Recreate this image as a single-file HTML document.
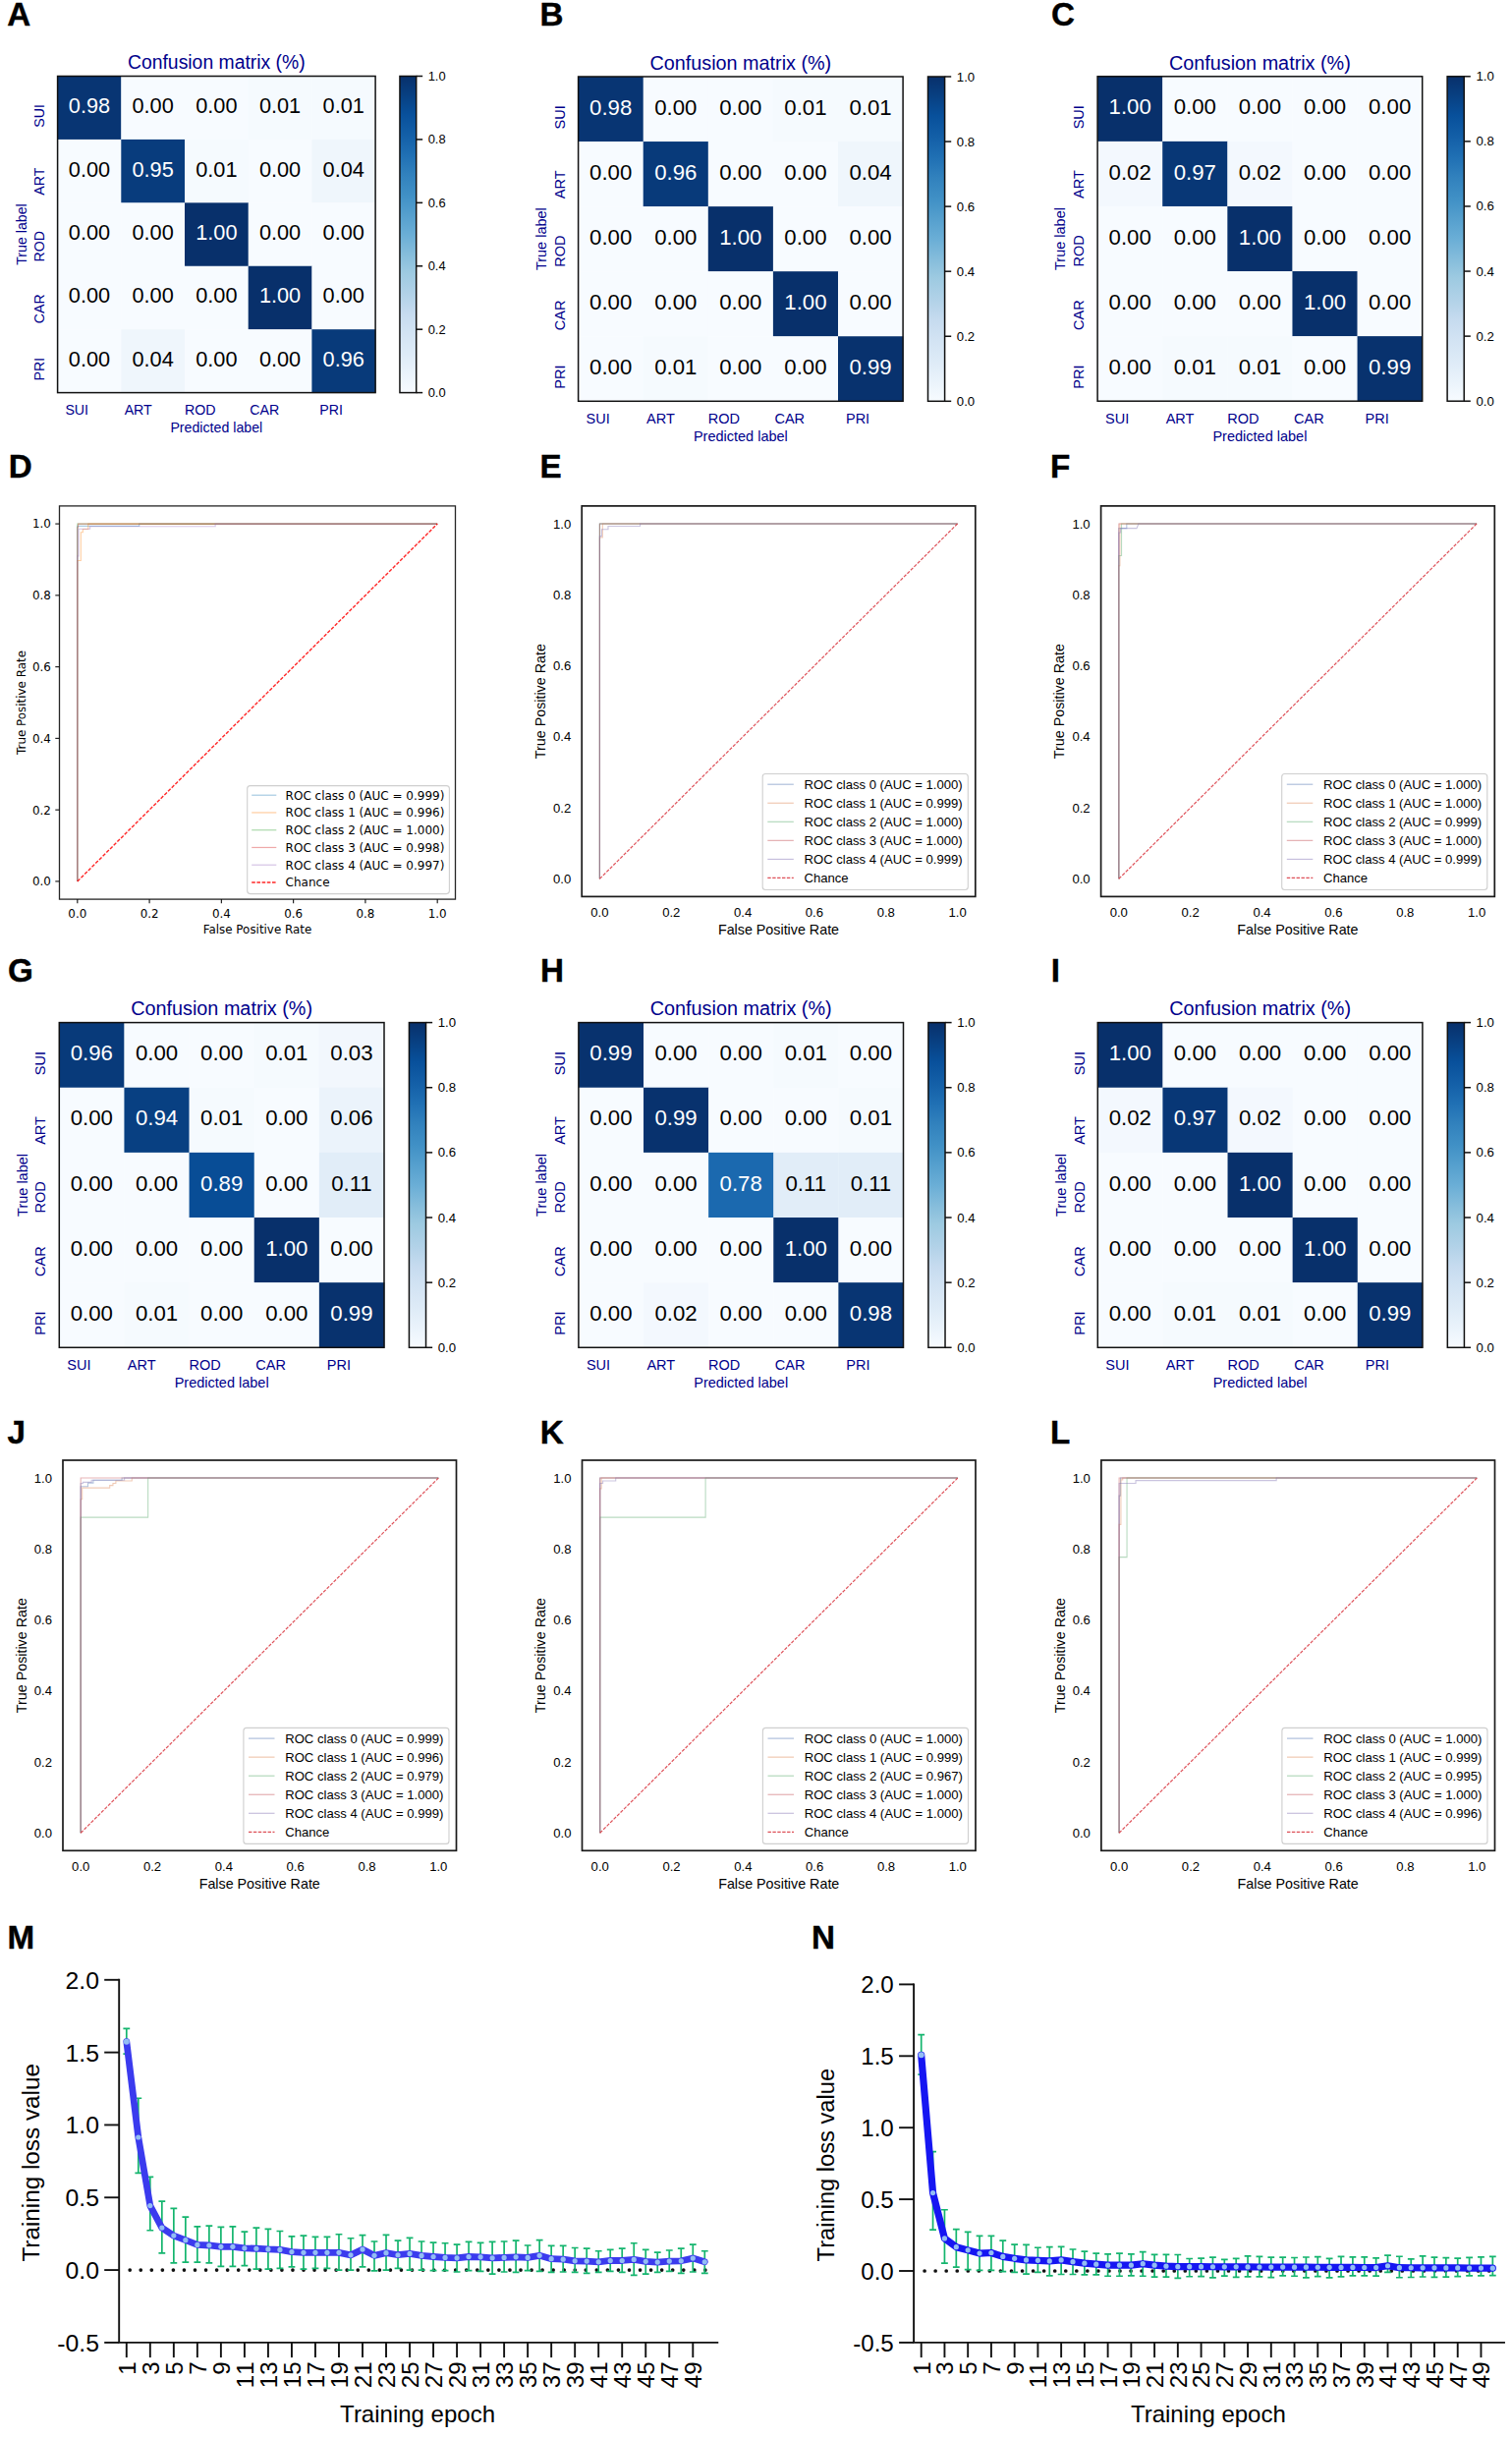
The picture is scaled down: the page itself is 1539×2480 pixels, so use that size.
<!DOCTYPE html>
<html lang="en"><head><meta charset="utf-8"><title>Figure</title>
<style>html,body{margin:0;padding:0;background:#fff}svg{display:block}</style></head>
<body>
<svg width="1539" height="2480" viewBox="0 0 1539 2480" font-family="'Liberation Sans', Arial, sans-serif">
<rect width="1539" height="2480" fill="#fff"/>
<rect x="58.6" y="77.5" width="65" height="64.72" fill="#083573"/>
<rect x="123.3" y="77.5" width="65" height="64.72" fill="#f7fbff"/>
<rect x="188" y="77.5" width="65" height="64.72" fill="#f7fbff"/>
<rect x="252.7" y="77.5" width="65" height="64.72" fill="#f5fafe"/>
<rect x="317.4" y="77.5" width="65" height="64.72" fill="#f5fafe"/>
<rect x="58.6" y="141.92" width="65" height="64.72" fill="#f7fbff"/>
<rect x="123.3" y="141.92" width="65" height="64.72" fill="#083c7d"/>
<rect x="188" y="141.92" width="65" height="64.72" fill="#f5fafe"/>
<rect x="252.7" y="141.92" width="65" height="64.72" fill="#f7fbff"/>
<rect x="317.4" y="141.92" width="65" height="64.72" fill="#eff6fc"/>
<rect x="58.6" y="206.34" width="65" height="64.72" fill="#f7fbff"/>
<rect x="123.3" y="206.34" width="65" height="64.72" fill="#f7fbff"/>
<rect x="188" y="206.34" width="65" height="64.72" fill="#08306b"/>
<rect x="252.7" y="206.34" width="65" height="64.72" fill="#f7fbff"/>
<rect x="317.4" y="206.34" width="65" height="64.72" fill="#f7fbff"/>
<rect x="58.6" y="270.76" width="65" height="64.72" fill="#f7fbff"/>
<rect x="123.3" y="270.76" width="65" height="64.72" fill="#f7fbff"/>
<rect x="188" y="270.76" width="65" height="64.72" fill="#f7fbff"/>
<rect x="252.7" y="270.76" width="65" height="64.72" fill="#08306b"/>
<rect x="317.4" y="270.76" width="65" height="64.72" fill="#f7fbff"/>
<rect x="58.6" y="335.18" width="65" height="64.72" fill="#f7fbff"/>
<rect x="123.3" y="335.18" width="65" height="64.72" fill="#eff6fc"/>
<rect x="188" y="335.18" width="65" height="64.72" fill="#f7fbff"/>
<rect x="252.7" y="335.18" width="65" height="64.72" fill="#f7fbff"/>
<rect x="317.4" y="335.18" width="65" height="64.72" fill="#083a7a"/>
<rect x="58.6" y="77.5" width="323.5" height="322.1" fill="none" stroke="#111" stroke-width="1.5"/>
<text x="90.95" y="115.19" font-size="21.73" text-anchor="middle" fill="#fff">0.98</text>
<text x="155.65" y="115.19" font-size="21.73" text-anchor="middle">0.00</text>
<text x="220.35" y="115.19" font-size="21.73" text-anchor="middle">0.00</text>
<text x="285.05" y="115.19" font-size="21.73" text-anchor="middle">0.01</text>
<text x="349.75" y="115.19" font-size="21.73" text-anchor="middle">0.01</text>
<text x="90.95" y="179.61" font-size="21.73" text-anchor="middle">0.00</text>
<text x="155.65" y="179.61" font-size="21.73" text-anchor="middle" fill="#fff">0.95</text>
<text x="220.35" y="179.61" font-size="21.73" text-anchor="middle">0.01</text>
<text x="285.05" y="179.61" font-size="21.73" text-anchor="middle">0.00</text>
<text x="349.75" y="179.61" font-size="21.73" text-anchor="middle">0.04</text>
<text x="90.95" y="244.03" font-size="21.73" text-anchor="middle">0.00</text>
<text x="155.65" y="244.03" font-size="21.73" text-anchor="middle">0.00</text>
<text x="220.35" y="244.03" font-size="21.73" text-anchor="middle" fill="#fff">1.00</text>
<text x="285.05" y="244.03" font-size="21.73" text-anchor="middle">0.00</text>
<text x="349.75" y="244.03" font-size="21.73" text-anchor="middle">0.00</text>
<text x="90.95" y="308.45" font-size="21.73" text-anchor="middle">0.00</text>
<text x="155.65" y="308.45" font-size="21.73" text-anchor="middle">0.00</text>
<text x="220.35" y="308.45" font-size="21.73" text-anchor="middle">0.00</text>
<text x="285.05" y="308.45" font-size="21.73" text-anchor="middle" fill="#fff">1.00</text>
<text x="349.75" y="308.45" font-size="21.73" text-anchor="middle">0.00</text>
<text x="90.95" y="372.87" font-size="21.73" text-anchor="middle">0.00</text>
<text x="155.65" y="372.87" font-size="21.73" text-anchor="middle">0.04</text>
<text x="220.35" y="372.87" font-size="21.73" text-anchor="middle">0.00</text>
<text x="285.05" y="372.87" font-size="21.73" text-anchor="middle">0.00</text>
<text x="349.75" y="372.87" font-size="21.73" text-anchor="middle" fill="#fff">0.96</text>
<text x="220.35" y="70.35" font-size="19.38" text-anchor="middle" fill="#00008b">Confusion matrix (%)</text>
<text x="90.07" y="421.53" font-size="14.19" text-anchor="end" fill="#00008b">SUI</text>
<text x="154.77" y="421.53" font-size="14.19" text-anchor="end" fill="#00008b">ART</text>
<text x="219.47" y="421.53" font-size="14.19" text-anchor="end" fill="#00008b">ROD</text>
<text x="284.17" y="421.53" font-size="14.19" text-anchor="end" fill="#00008b">CAR</text>
<text x="348.87" y="421.53" font-size="14.19" text-anchor="end" fill="#00008b">PRI</text>
<text x="220.35" y="439.73" font-size="14.19" text-anchor="middle" fill="#00008b">Predicted label</text>
<text transform="translate(45.09 106.09) rotate(-90)" font-size="14.19" text-anchor="end" fill="#00008b">SUI</text>
<text transform="translate(45.09 170.51) rotate(-90)" font-size="14.19" text-anchor="end" fill="#00008b">ART</text>
<text transform="translate(45.09 234.93) rotate(-90)" font-size="14.19" text-anchor="end" fill="#00008b">ROD</text>
<text transform="translate(45.09 299.35) rotate(-90)" font-size="14.19" text-anchor="end" fill="#00008b">CAR</text>
<text transform="translate(45.09 363.77) rotate(-90)" font-size="14.19" text-anchor="end" fill="#00008b">PRI</text>
<text transform="translate(26.69 238.55) rotate(-90)" font-size="14.19" text-anchor="middle" fill="#00008b">True label</text>
<defs><linearGradient id="g0" x1="0" y1="0" x2="0" y2="1"><stop offset="0" stop-color="#08306b"/><stop offset="0.06" stop-color="#084082"/><stop offset="0.12" stop-color="#08509b"/><stop offset="0.19" stop-color="#1460a8"/><stop offset="0.25" stop-color="#2070b4"/><stop offset="0.31" stop-color="#3181bd"/><stop offset="0.38" stop-color="#4191c6"/><stop offset="0.44" stop-color="#56a0ce"/><stop offset="0.5" stop-color="#6aaed6"/><stop offset="0.56" stop-color="#84bcdb"/><stop offset="0.62" stop-color="#9dcae1"/><stop offset="0.69" stop-color="#b2d2e8"/><stop offset="0.75" stop-color="#c6dbef"/><stop offset="0.81" stop-color="#d2e3f3"/><stop offset="0.88" stop-color="#deebf7"/><stop offset="0.94" stop-color="#eaf3fb"/><stop offset="1" stop-color="#f7fbff"/></linearGradient></defs>
<rect x="406.96" y="77.5" width="16.74" height="322.1" fill="url(#g0)" stroke="#111" stroke-width="1.5"/>
<line x1="423.7" y1="77.5" x2="430.16" y2="77.5" stroke="#111" stroke-width="1.5"/>
<text x="435.64" y="81.9" font-size="12.92">1.0</text>
<line x1="423.7" y1="141.92" x2="430.16" y2="141.92" stroke="#111" stroke-width="1.5"/>
<text x="435.64" y="146.32" font-size="12.92">0.8</text>
<line x1="423.7" y1="206.34" x2="430.16" y2="206.34" stroke="#111" stroke-width="1.5"/>
<text x="435.64" y="210.74" font-size="12.92">0.6</text>
<line x1="423.7" y1="270.76" x2="430.16" y2="270.76" stroke="#111" stroke-width="1.5"/>
<text x="435.64" y="275.16" font-size="12.92">0.4</text>
<line x1="423.7" y1="335.18" x2="430.16" y2="335.18" stroke="#111" stroke-width="1.5"/>
<text x="435.64" y="339.58" font-size="12.92">0.2</text>
<line x1="423.7" y1="399.6" x2="430.16" y2="399.6" stroke="#111" stroke-width="1.5"/>
<text x="435.64" y="404" font-size="12.92">0.0</text>
<rect x="588.6" y="78" width="66.4" height="66.36" fill="#083573"/>
<rect x="654.7" y="78" width="66.4" height="66.36" fill="#f7fbff"/>
<rect x="720.8" y="78" width="66.4" height="66.36" fill="#f7fbff"/>
<rect x="786.9" y="78" width="66.4" height="66.36" fill="#f5fafe"/>
<rect x="853" y="78" width="66.4" height="66.36" fill="#f5fafe"/>
<rect x="588.6" y="144.06" width="66.4" height="66.36" fill="#f7fbff"/>
<rect x="654.7" y="144.06" width="66.4" height="66.36" fill="#083a7a"/>
<rect x="720.8" y="144.06" width="66.4" height="66.36" fill="#f7fbff"/>
<rect x="786.9" y="144.06" width="66.4" height="66.36" fill="#f7fbff"/>
<rect x="853" y="144.06" width="66.4" height="66.36" fill="#eff6fc"/>
<rect x="588.6" y="210.12" width="66.4" height="66.36" fill="#f7fbff"/>
<rect x="654.7" y="210.12" width="66.4" height="66.36" fill="#f7fbff"/>
<rect x="720.8" y="210.12" width="66.4" height="66.36" fill="#08306b"/>
<rect x="786.9" y="210.12" width="66.4" height="66.36" fill="#f7fbff"/>
<rect x="853" y="210.12" width="66.4" height="66.36" fill="#f7fbff"/>
<rect x="588.6" y="276.18" width="66.4" height="66.36" fill="#f7fbff"/>
<rect x="654.7" y="276.18" width="66.4" height="66.36" fill="#f7fbff"/>
<rect x="720.8" y="276.18" width="66.4" height="66.36" fill="#f7fbff"/>
<rect x="786.9" y="276.18" width="66.4" height="66.36" fill="#08306b"/>
<rect x="853" y="276.18" width="66.4" height="66.36" fill="#f7fbff"/>
<rect x="588.6" y="342.24" width="66.4" height="66.36" fill="#f7fbff"/>
<rect x="654.7" y="342.24" width="66.4" height="66.36" fill="#f5fafe"/>
<rect x="720.8" y="342.24" width="66.4" height="66.36" fill="#f7fbff"/>
<rect x="786.9" y="342.24" width="66.4" height="66.36" fill="#f7fbff"/>
<rect x="853" y="342.24" width="66.4" height="66.36" fill="#08326e"/>
<rect x="588.6" y="78" width="330.5" height="330.3" fill="none" stroke="#111" stroke-width="1.5"/>
<text x="621.65" y="116.63" font-size="22.2" text-anchor="middle" fill="#fff">0.98</text>
<text x="687.75" y="116.63" font-size="22.2" text-anchor="middle">0.00</text>
<text x="753.85" y="116.63" font-size="22.2" text-anchor="middle">0.00</text>
<text x="819.95" y="116.63" font-size="22.2" text-anchor="middle">0.01</text>
<text x="886.05" y="116.63" font-size="22.2" text-anchor="middle">0.01</text>
<text x="621.65" y="182.69" font-size="22.2" text-anchor="middle">0.00</text>
<text x="687.75" y="182.69" font-size="22.2" text-anchor="middle" fill="#fff">0.96</text>
<text x="753.85" y="182.69" font-size="22.2" text-anchor="middle">0.00</text>
<text x="819.95" y="182.69" font-size="22.2" text-anchor="middle">0.00</text>
<text x="886.05" y="182.69" font-size="22.2" text-anchor="middle">0.04</text>
<text x="621.65" y="248.75" font-size="22.2" text-anchor="middle">0.00</text>
<text x="687.75" y="248.75" font-size="22.2" text-anchor="middle">0.00</text>
<text x="753.85" y="248.75" font-size="22.2" text-anchor="middle" fill="#fff">1.00</text>
<text x="819.95" y="248.75" font-size="22.2" text-anchor="middle">0.00</text>
<text x="886.05" y="248.75" font-size="22.2" text-anchor="middle">0.00</text>
<text x="621.65" y="314.81" font-size="22.2" text-anchor="middle">0.00</text>
<text x="687.75" y="314.81" font-size="22.2" text-anchor="middle">0.00</text>
<text x="753.85" y="314.81" font-size="22.2" text-anchor="middle">0.00</text>
<text x="819.95" y="314.81" font-size="22.2" text-anchor="middle" fill="#fff">1.00</text>
<text x="886.05" y="314.81" font-size="22.2" text-anchor="middle">0.00</text>
<text x="621.65" y="380.87" font-size="22.2" text-anchor="middle">0.00</text>
<text x="687.75" y="380.87" font-size="22.2" text-anchor="middle">0.01</text>
<text x="753.85" y="380.87" font-size="22.2" text-anchor="middle">0.00</text>
<text x="819.95" y="380.87" font-size="22.2" text-anchor="middle">0.00</text>
<text x="886.05" y="380.87" font-size="22.2" text-anchor="middle" fill="#fff">0.99</text>
<text x="753.85" y="70.7" font-size="19.8" text-anchor="middle" fill="#00008b">Confusion matrix (%)</text>
<text x="620.75" y="430.7" font-size="14.5" text-anchor="end" fill="#00008b">SUI</text>
<text x="686.85" y="430.7" font-size="14.5" text-anchor="end" fill="#00008b">ART</text>
<text x="752.95" y="430.7" font-size="14.5" text-anchor="end" fill="#00008b">ROD</text>
<text x="819.05" y="430.7" font-size="14.5" text-anchor="end" fill="#00008b">CAR</text>
<text x="885.15" y="430.7" font-size="14.5" text-anchor="end" fill="#00008b">PRI</text>
<text x="753.85" y="449.3" font-size="14.5" text-anchor="middle" fill="#00008b">Predicted label</text>
<text transform="translate(574.8 107.33) rotate(-90)" font-size="14.5" text-anchor="end" fill="#00008b">SUI</text>
<text transform="translate(574.8 173.39) rotate(-90)" font-size="14.5" text-anchor="end" fill="#00008b">ART</text>
<text transform="translate(574.8 239.45) rotate(-90)" font-size="14.5" text-anchor="end" fill="#00008b">ROD</text>
<text transform="translate(574.8 305.51) rotate(-90)" font-size="14.5" text-anchor="end" fill="#00008b">CAR</text>
<text transform="translate(574.8 371.57) rotate(-90)" font-size="14.5" text-anchor="end" fill="#00008b">PRI</text>
<text transform="translate(556 243.15) rotate(-90)" font-size="14.5" text-anchor="middle" fill="#00008b">True label</text>
<defs><linearGradient id="g78" x1="0" y1="0" x2="0" y2="1"><stop offset="0" stop-color="#08306b"/><stop offset="0.06" stop-color="#084082"/><stop offset="0.12" stop-color="#08509b"/><stop offset="0.19" stop-color="#1460a8"/><stop offset="0.25" stop-color="#2070b4"/><stop offset="0.31" stop-color="#3181bd"/><stop offset="0.38" stop-color="#4191c6"/><stop offset="0.44" stop-color="#56a0ce"/><stop offset="0.5" stop-color="#6aaed6"/><stop offset="0.56" stop-color="#84bcdb"/><stop offset="0.62" stop-color="#9dcae1"/><stop offset="0.69" stop-color="#b2d2e8"/><stop offset="0.75" stop-color="#c6dbef"/><stop offset="0.81" stop-color="#d2e3f3"/><stop offset="0.88" stop-color="#deebf7"/><stop offset="0.94" stop-color="#eaf3fb"/><stop offset="1" stop-color="#f7fbff"/></linearGradient></defs>
<rect x="944.5" y="78" width="17.1" height="330.3" fill="url(#g78)" stroke="#111" stroke-width="1.5"/>
<line x1="961.6" y1="78" x2="968.2" y2="78" stroke="#111" stroke-width="1.5"/>
<text x="973.8" y="82.5" font-size="13.2">1.0</text>
<line x1="961.6" y1="144.06" x2="968.2" y2="144.06" stroke="#111" stroke-width="1.5"/>
<text x="973.8" y="148.56" font-size="13.2">0.8</text>
<line x1="961.6" y1="210.12" x2="968.2" y2="210.12" stroke="#111" stroke-width="1.5"/>
<text x="973.8" y="214.62" font-size="13.2">0.6</text>
<line x1="961.6" y1="276.18" x2="968.2" y2="276.18" stroke="#111" stroke-width="1.5"/>
<text x="973.8" y="280.68" font-size="13.2">0.4</text>
<line x1="961.6" y1="342.24" x2="968.2" y2="342.24" stroke="#111" stroke-width="1.5"/>
<text x="973.8" y="346.74" font-size="13.2">0.2</text>
<line x1="961.6" y1="408.3" x2="968.2" y2="408.3" stroke="#111" stroke-width="1.5"/>
<text x="973.8" y="412.8" font-size="13.2">0.0</text>
<rect x="1117.1" y="77.8" width="66.42" height="66.38" fill="#08306b"/>
<rect x="1183.22" y="77.8" width="66.42" height="66.38" fill="#f7fbff"/>
<rect x="1249.34" y="77.8" width="66.42" height="66.38" fill="#f7fbff"/>
<rect x="1315.46" y="77.8" width="66.42" height="66.38" fill="#f7fbff"/>
<rect x="1381.58" y="77.8" width="66.42" height="66.38" fill="#f7fbff"/>
<rect x="1117.1" y="143.88" width="66.42" height="66.38" fill="#f3f8fe"/>
<rect x="1183.22" y="143.88" width="66.42" height="66.38" fill="#083776"/>
<rect x="1249.34" y="143.88" width="66.42" height="66.38" fill="#f3f8fe"/>
<rect x="1315.46" y="143.88" width="66.42" height="66.38" fill="#f7fbff"/>
<rect x="1381.58" y="143.88" width="66.42" height="66.38" fill="#f7fbff"/>
<rect x="1117.1" y="209.96" width="66.42" height="66.38" fill="#f7fbff"/>
<rect x="1183.22" y="209.96" width="66.42" height="66.38" fill="#f7fbff"/>
<rect x="1249.34" y="209.96" width="66.42" height="66.38" fill="#08306b"/>
<rect x="1315.46" y="209.96" width="66.42" height="66.38" fill="#f7fbff"/>
<rect x="1381.58" y="209.96" width="66.42" height="66.38" fill="#f7fbff"/>
<rect x="1117.1" y="276.04" width="66.42" height="66.38" fill="#f7fbff"/>
<rect x="1183.22" y="276.04" width="66.42" height="66.38" fill="#f7fbff"/>
<rect x="1249.34" y="276.04" width="66.42" height="66.38" fill="#f7fbff"/>
<rect x="1315.46" y="276.04" width="66.42" height="66.38" fill="#08306b"/>
<rect x="1381.58" y="276.04" width="66.42" height="66.38" fill="#f7fbff"/>
<rect x="1117.1" y="342.12" width="66.42" height="66.38" fill="#f7fbff"/>
<rect x="1183.22" y="342.12" width="66.42" height="66.38" fill="#f5fafe"/>
<rect x="1249.34" y="342.12" width="66.42" height="66.38" fill="#f5fafe"/>
<rect x="1315.46" y="342.12" width="66.42" height="66.38" fill="#f7fbff"/>
<rect x="1381.58" y="342.12" width="66.42" height="66.38" fill="#08326e"/>
<rect x="1117.1" y="77.8" width="330.6" height="330.4" fill="none" stroke="#111" stroke-width="1.5"/>
<text x="1150.16" y="116.44" font-size="22.21" text-anchor="middle" fill="#fff">1.00</text>
<text x="1216.28" y="116.44" font-size="22.21" text-anchor="middle">0.00</text>
<text x="1282.4" y="116.44" font-size="22.21" text-anchor="middle">0.00</text>
<text x="1348.52" y="116.44" font-size="22.21" text-anchor="middle">0.00</text>
<text x="1414.64" y="116.44" font-size="22.21" text-anchor="middle">0.00</text>
<text x="1150.16" y="182.52" font-size="22.21" text-anchor="middle">0.02</text>
<text x="1216.28" y="182.52" font-size="22.21" text-anchor="middle" fill="#fff">0.97</text>
<text x="1282.4" y="182.52" font-size="22.21" text-anchor="middle">0.02</text>
<text x="1348.52" y="182.52" font-size="22.21" text-anchor="middle">0.00</text>
<text x="1414.64" y="182.52" font-size="22.21" text-anchor="middle">0.00</text>
<text x="1150.16" y="248.6" font-size="22.21" text-anchor="middle">0.00</text>
<text x="1216.28" y="248.6" font-size="22.21" text-anchor="middle">0.00</text>
<text x="1282.4" y="248.6" font-size="22.21" text-anchor="middle" fill="#fff">1.00</text>
<text x="1348.52" y="248.6" font-size="22.21" text-anchor="middle">0.00</text>
<text x="1414.64" y="248.6" font-size="22.21" text-anchor="middle">0.00</text>
<text x="1150.16" y="314.68" font-size="22.21" text-anchor="middle">0.00</text>
<text x="1216.28" y="314.68" font-size="22.21" text-anchor="middle">0.00</text>
<text x="1282.4" y="314.68" font-size="22.21" text-anchor="middle">0.00</text>
<text x="1348.52" y="314.68" font-size="22.21" text-anchor="middle" fill="#fff">1.00</text>
<text x="1414.64" y="314.68" font-size="22.21" text-anchor="middle">0.00</text>
<text x="1150.16" y="380.76" font-size="22.21" text-anchor="middle">0.00</text>
<text x="1216.28" y="380.76" font-size="22.21" text-anchor="middle">0.01</text>
<text x="1282.4" y="380.76" font-size="22.21" text-anchor="middle">0.01</text>
<text x="1348.52" y="380.76" font-size="22.21" text-anchor="middle">0.00</text>
<text x="1414.64" y="380.76" font-size="22.21" text-anchor="middle" fill="#fff">0.99</text>
<text x="1282.4" y="70.5" font-size="19.81" text-anchor="middle" fill="#00008b">Confusion matrix (%)</text>
<text x="1149.26" y="430.61" font-size="14.5" text-anchor="end" fill="#00008b">SUI</text>
<text x="1215.38" y="430.61" font-size="14.5" text-anchor="end" fill="#00008b">ART</text>
<text x="1281.5" y="430.61" font-size="14.5" text-anchor="end" fill="#00008b">ROD</text>
<text x="1347.62" y="430.61" font-size="14.5" text-anchor="end" fill="#00008b">CAR</text>
<text x="1413.74" y="430.61" font-size="14.5" text-anchor="end" fill="#00008b">PRI</text>
<text x="1282.4" y="449.21" font-size="14.5" text-anchor="middle" fill="#00008b">Predicted label</text>
<text transform="translate(1103.3 107.14) rotate(-90)" font-size="14.5" text-anchor="end" fill="#00008b">SUI</text>
<text transform="translate(1103.3 173.22) rotate(-90)" font-size="14.5" text-anchor="end" fill="#00008b">ART</text>
<text transform="translate(1103.3 239.3) rotate(-90)" font-size="14.5" text-anchor="end" fill="#00008b">ROD</text>
<text transform="translate(1103.3 305.38) rotate(-90)" font-size="14.5" text-anchor="end" fill="#00008b">CAR</text>
<text transform="translate(1103.3 371.46) rotate(-90)" font-size="14.5" text-anchor="end" fill="#00008b">PRI</text>
<text transform="translate(1084.49 243) rotate(-90)" font-size="14.5" text-anchor="middle" fill="#00008b">True label</text>
<defs><linearGradient id="g156" x1="0" y1="0" x2="0" y2="1"><stop offset="0" stop-color="#08306b"/><stop offset="0.06" stop-color="#084082"/><stop offset="0.12" stop-color="#08509b"/><stop offset="0.19" stop-color="#1460a8"/><stop offset="0.25" stop-color="#2070b4"/><stop offset="0.31" stop-color="#3181bd"/><stop offset="0.38" stop-color="#4191c6"/><stop offset="0.44" stop-color="#56a0ce"/><stop offset="0.5" stop-color="#6aaed6"/><stop offset="0.56" stop-color="#84bcdb"/><stop offset="0.62" stop-color="#9dcae1"/><stop offset="0.69" stop-color="#b2d2e8"/><stop offset="0.75" stop-color="#c6dbef"/><stop offset="0.81" stop-color="#d2e3f3"/><stop offset="0.88" stop-color="#deebf7"/><stop offset="0.94" stop-color="#eaf3fb"/><stop offset="1" stop-color="#f7fbff"/></linearGradient></defs>
<rect x="1473.11" y="77.8" width="17.11" height="330.4" fill="url(#g156)" stroke="#111" stroke-width="1.5"/>
<line x1="1490.21" y1="77.8" x2="1496.81" y2="77.8" stroke="#111" stroke-width="1.5"/>
<text x="1502.42" y="82.3" font-size="13.2">1.0</text>
<line x1="1490.21" y1="143.88" x2="1496.81" y2="143.88" stroke="#111" stroke-width="1.5"/>
<text x="1502.42" y="148.38" font-size="13.2">0.8</text>
<line x1="1490.21" y1="209.96" x2="1496.81" y2="209.96" stroke="#111" stroke-width="1.5"/>
<text x="1502.42" y="214.46" font-size="13.2">0.6</text>
<line x1="1490.21" y1="276.04" x2="1496.81" y2="276.04" stroke="#111" stroke-width="1.5"/>
<text x="1502.42" y="280.54" font-size="13.2">0.4</text>
<line x1="1490.21" y1="342.12" x2="1496.81" y2="342.12" stroke="#111" stroke-width="1.5"/>
<text x="1502.42" y="346.62" font-size="13.2">0.2</text>
<line x1="1490.21" y1="408.2" x2="1496.81" y2="408.2" stroke="#111" stroke-width="1.5"/>
<text x="1502.42" y="412.7" font-size="13.2">0.0</text>
<rect x="60.3" y="1040.6" width="66.44" height="66.44" fill="#083a7a"/>
<rect x="126.44" y="1040.6" width="66.44" height="66.44" fill="#f7fbff"/>
<rect x="192.58" y="1040.6" width="66.44" height="66.44" fill="#f7fbff"/>
<rect x="258.72" y="1040.6" width="66.44" height="66.44" fill="#f5fafe"/>
<rect x="324.86" y="1040.6" width="66.44" height="66.44" fill="#f2f7fd"/>
<rect x="60.3" y="1106.74" width="66.44" height="66.44" fill="#f7fbff"/>
<rect x="126.44" y="1106.74" width="66.44" height="66.44" fill="#084082"/>
<rect x="192.58" y="1106.74" width="66.44" height="66.44" fill="#f5fafe"/>
<rect x="258.72" y="1106.74" width="66.44" height="66.44" fill="#f7fbff"/>
<rect x="324.86" y="1106.74" width="66.44" height="66.44" fill="#ebf3fb"/>
<rect x="60.3" y="1172.88" width="66.44" height="66.44" fill="#f7fbff"/>
<rect x="126.44" y="1172.88" width="66.44" height="66.44" fill="#f7fbff"/>
<rect x="192.58" y="1172.88" width="66.44" height="66.44" fill="#084d96"/>
<rect x="258.72" y="1172.88" width="66.44" height="66.44" fill="#f7fbff"/>
<rect x="324.86" y="1172.88" width="66.44" height="66.44" fill="#e1edf8"/>
<rect x="60.3" y="1239.02" width="66.44" height="66.44" fill="#f7fbff"/>
<rect x="126.44" y="1239.02" width="66.44" height="66.44" fill="#f7fbff"/>
<rect x="192.58" y="1239.02" width="66.44" height="66.44" fill="#f7fbff"/>
<rect x="258.72" y="1239.02" width="66.44" height="66.44" fill="#08306b"/>
<rect x="324.86" y="1239.02" width="66.44" height="66.44" fill="#f7fbff"/>
<rect x="60.3" y="1305.16" width="66.44" height="66.44" fill="#f7fbff"/>
<rect x="126.44" y="1305.16" width="66.44" height="66.44" fill="#f5fafe"/>
<rect x="192.58" y="1305.16" width="66.44" height="66.44" fill="#f7fbff"/>
<rect x="258.72" y="1305.16" width="66.44" height="66.44" fill="#f7fbff"/>
<rect x="324.86" y="1305.16" width="66.44" height="66.44" fill="#08326e"/>
<rect x="60.3" y="1040.6" width="330.7" height="330.7" fill="none" stroke="#111" stroke-width="1.5"/>
<text x="93.37" y="1079.27" font-size="22.21" text-anchor="middle" fill="#fff">0.96</text>
<text x="159.51" y="1079.27" font-size="22.21" text-anchor="middle">0.00</text>
<text x="225.65" y="1079.27" font-size="22.21" text-anchor="middle">0.00</text>
<text x="291.79" y="1079.27" font-size="22.21" text-anchor="middle">0.01</text>
<text x="357.93" y="1079.27" font-size="22.21" text-anchor="middle">0.03</text>
<text x="93.37" y="1145.41" font-size="22.21" text-anchor="middle">0.00</text>
<text x="159.51" y="1145.41" font-size="22.21" text-anchor="middle" fill="#fff">0.94</text>
<text x="225.65" y="1145.41" font-size="22.21" text-anchor="middle">0.01</text>
<text x="291.79" y="1145.41" font-size="22.21" text-anchor="middle">0.00</text>
<text x="357.93" y="1145.41" font-size="22.21" text-anchor="middle">0.06</text>
<text x="93.37" y="1211.55" font-size="22.21" text-anchor="middle">0.00</text>
<text x="159.51" y="1211.55" font-size="22.21" text-anchor="middle">0.00</text>
<text x="225.65" y="1211.55" font-size="22.21" text-anchor="middle" fill="#fff">0.89</text>
<text x="291.79" y="1211.55" font-size="22.21" text-anchor="middle">0.00</text>
<text x="357.93" y="1211.55" font-size="22.21" text-anchor="middle">0.11</text>
<text x="93.37" y="1277.69" font-size="22.21" text-anchor="middle">0.00</text>
<text x="159.51" y="1277.69" font-size="22.21" text-anchor="middle">0.00</text>
<text x="225.65" y="1277.69" font-size="22.21" text-anchor="middle">0.00</text>
<text x="291.79" y="1277.69" font-size="22.21" text-anchor="middle" fill="#fff">1.00</text>
<text x="357.93" y="1277.69" font-size="22.21" text-anchor="middle">0.00</text>
<text x="93.37" y="1343.83" font-size="22.21" text-anchor="middle">0.00</text>
<text x="159.51" y="1343.83" font-size="22.21" text-anchor="middle">0.01</text>
<text x="225.65" y="1343.83" font-size="22.21" text-anchor="middle">0.00</text>
<text x="291.79" y="1343.83" font-size="22.21" text-anchor="middle">0.00</text>
<text x="357.93" y="1343.83" font-size="22.21" text-anchor="middle" fill="#fff">0.99</text>
<text x="225.65" y="1033.3" font-size="19.81" text-anchor="middle" fill="#00008b">Confusion matrix (%)</text>
<text x="92.47" y="1393.71" font-size="14.51" text-anchor="end" fill="#00008b">SUI</text>
<text x="158.61" y="1393.71" font-size="14.51" text-anchor="end" fill="#00008b">ART</text>
<text x="224.75" y="1393.71" font-size="14.51" text-anchor="end" fill="#00008b">ROD</text>
<text x="290.89" y="1393.71" font-size="14.51" text-anchor="end" fill="#00008b">CAR</text>
<text x="357.03" y="1393.71" font-size="14.51" text-anchor="end" fill="#00008b">PRI</text>
<text x="225.65" y="1412.32" font-size="14.51" text-anchor="middle" fill="#00008b">Predicted label</text>
<text transform="translate(46.49 1069.97) rotate(-90)" font-size="14.51" text-anchor="end" fill="#00008b">SUI</text>
<text transform="translate(46.49 1136.11) rotate(-90)" font-size="14.51" text-anchor="end" fill="#00008b">ART</text>
<text transform="translate(46.49 1202.25) rotate(-90)" font-size="14.51" text-anchor="end" fill="#00008b">ROD</text>
<text transform="translate(46.49 1268.39) rotate(-90)" font-size="14.51" text-anchor="end" fill="#00008b">CAR</text>
<text transform="translate(46.49 1334.53) rotate(-90)" font-size="14.51" text-anchor="end" fill="#00008b">PRI</text>
<text transform="translate(27.68 1205.95) rotate(-90)" font-size="14.51" text-anchor="middle" fill="#00008b">True label</text>
<defs><linearGradient id="g234" x1="0" y1="0" x2="0" y2="1"><stop offset="0" stop-color="#08306b"/><stop offset="0.06" stop-color="#084082"/><stop offset="0.12" stop-color="#08509b"/><stop offset="0.19" stop-color="#1460a8"/><stop offset="0.25" stop-color="#2070b4"/><stop offset="0.31" stop-color="#3181bd"/><stop offset="0.38" stop-color="#4191c6"/><stop offset="0.44" stop-color="#56a0ce"/><stop offset="0.5" stop-color="#6aaed6"/><stop offset="0.56" stop-color="#84bcdb"/><stop offset="0.62" stop-color="#9dcae1"/><stop offset="0.69" stop-color="#b2d2e8"/><stop offset="0.75" stop-color="#c6dbef"/><stop offset="0.81" stop-color="#d2e3f3"/><stop offset="0.88" stop-color="#deebf7"/><stop offset="0.94" stop-color="#eaf3fb"/><stop offset="1" stop-color="#f7fbff"/></linearGradient></defs>
<rect x="416.42" y="1040.6" width="17.11" height="330.7" fill="url(#g234)" stroke="#111" stroke-width="1.5"/>
<line x1="433.53" y1="1040.6" x2="440.13" y2="1040.6" stroke="#111" stroke-width="1.5"/>
<text x="445.73" y="1045.1" font-size="13.21">1.0</text>
<line x1="433.53" y1="1106.74" x2="440.13" y2="1106.74" stroke="#111" stroke-width="1.5"/>
<text x="445.73" y="1111.24" font-size="13.21">0.8</text>
<line x1="433.53" y1="1172.88" x2="440.13" y2="1172.88" stroke="#111" stroke-width="1.5"/>
<text x="445.73" y="1177.38" font-size="13.21">0.6</text>
<line x1="433.53" y1="1239.02" x2="440.13" y2="1239.02" stroke="#111" stroke-width="1.5"/>
<text x="445.73" y="1243.52" font-size="13.21">0.4</text>
<line x1="433.53" y1="1305.16" x2="440.13" y2="1305.16" stroke="#111" stroke-width="1.5"/>
<text x="445.73" y="1309.66" font-size="13.21">0.2</text>
<line x1="433.53" y1="1371.3" x2="440.13" y2="1371.3" stroke="#111" stroke-width="1.5"/>
<text x="445.73" y="1375.8" font-size="13.21">0.0</text>
<rect x="588.9" y="1040.6" width="66.42" height="66.44" fill="#08326e"/>
<rect x="655.02" y="1040.6" width="66.42" height="66.44" fill="#f7fbff"/>
<rect x="721.14" y="1040.6" width="66.42" height="66.44" fill="#f7fbff"/>
<rect x="787.26" y="1040.6" width="66.42" height="66.44" fill="#f5fafe"/>
<rect x="853.38" y="1040.6" width="66.42" height="66.44" fill="#f7fbff"/>
<rect x="588.9" y="1106.74" width="66.42" height="66.44" fill="#f7fbff"/>
<rect x="655.02" y="1106.74" width="66.42" height="66.44" fill="#08326e"/>
<rect x="721.14" y="1106.74" width="66.42" height="66.44" fill="#f7fbff"/>
<rect x="787.26" y="1106.74" width="66.42" height="66.44" fill="#f7fbff"/>
<rect x="853.38" y="1106.74" width="66.42" height="66.44" fill="#f5fafe"/>
<rect x="588.9" y="1172.88" width="66.42" height="66.44" fill="#f7fbff"/>
<rect x="655.02" y="1172.88" width="66.42" height="66.44" fill="#f7fbff"/>
<rect x="721.14" y="1172.88" width="66.42" height="66.44" fill="#1b69af"/>
<rect x="787.26" y="1172.88" width="66.42" height="66.44" fill="#e1edf8"/>
<rect x="853.38" y="1172.88" width="66.42" height="66.44" fill="#e1edf8"/>
<rect x="588.9" y="1239.02" width="66.42" height="66.44" fill="#f7fbff"/>
<rect x="655.02" y="1239.02" width="66.42" height="66.44" fill="#f7fbff"/>
<rect x="721.14" y="1239.02" width="66.42" height="66.44" fill="#f7fbff"/>
<rect x="787.26" y="1239.02" width="66.42" height="66.44" fill="#08306b"/>
<rect x="853.38" y="1239.02" width="66.42" height="66.44" fill="#f7fbff"/>
<rect x="588.9" y="1305.16" width="66.42" height="66.44" fill="#f7fbff"/>
<rect x="655.02" y="1305.16" width="66.42" height="66.44" fill="#f3f8fe"/>
<rect x="721.14" y="1305.16" width="66.42" height="66.44" fill="#f7fbff"/>
<rect x="787.26" y="1305.16" width="66.42" height="66.44" fill="#f7fbff"/>
<rect x="853.38" y="1305.16" width="66.42" height="66.44" fill="#083573"/>
<rect x="588.9" y="1040.6" width="330.6" height="330.7" fill="none" stroke="#111" stroke-width="1.5"/>
<text x="621.96" y="1079.27" font-size="22.21" text-anchor="middle" fill="#fff">0.99</text>
<text x="688.08" y="1079.27" font-size="22.21" text-anchor="middle">0.00</text>
<text x="754.2" y="1079.27" font-size="22.21" text-anchor="middle">0.00</text>
<text x="820.32" y="1079.27" font-size="22.21" text-anchor="middle">0.01</text>
<text x="886.44" y="1079.27" font-size="22.21" text-anchor="middle">0.00</text>
<text x="621.96" y="1145.41" font-size="22.21" text-anchor="middle">0.00</text>
<text x="688.08" y="1145.41" font-size="22.21" text-anchor="middle" fill="#fff">0.99</text>
<text x="754.2" y="1145.41" font-size="22.21" text-anchor="middle">0.00</text>
<text x="820.32" y="1145.41" font-size="22.21" text-anchor="middle">0.00</text>
<text x="886.44" y="1145.41" font-size="22.21" text-anchor="middle">0.01</text>
<text x="621.96" y="1211.55" font-size="22.21" text-anchor="middle">0.00</text>
<text x="688.08" y="1211.55" font-size="22.21" text-anchor="middle">0.00</text>
<text x="754.2" y="1211.55" font-size="22.21" text-anchor="middle" fill="#fff">0.78</text>
<text x="820.32" y="1211.55" font-size="22.21" text-anchor="middle">0.11</text>
<text x="886.44" y="1211.55" font-size="22.21" text-anchor="middle">0.11</text>
<text x="621.96" y="1277.69" font-size="22.21" text-anchor="middle">0.00</text>
<text x="688.08" y="1277.69" font-size="22.21" text-anchor="middle">0.00</text>
<text x="754.2" y="1277.69" font-size="22.21" text-anchor="middle">0.00</text>
<text x="820.32" y="1277.69" font-size="22.21" text-anchor="middle" fill="#fff">1.00</text>
<text x="886.44" y="1277.69" font-size="22.21" text-anchor="middle">0.00</text>
<text x="621.96" y="1343.83" font-size="22.21" text-anchor="middle">0.00</text>
<text x="688.08" y="1343.83" font-size="22.21" text-anchor="middle">0.02</text>
<text x="754.2" y="1343.83" font-size="22.21" text-anchor="middle">0.00</text>
<text x="820.32" y="1343.83" font-size="22.21" text-anchor="middle">0.00</text>
<text x="886.44" y="1343.83" font-size="22.21" text-anchor="middle" fill="#fff">0.98</text>
<text x="754.2" y="1033.3" font-size="19.81" text-anchor="middle" fill="#00008b">Confusion matrix (%)</text>
<text x="621.06" y="1393.71" font-size="14.5" text-anchor="end" fill="#00008b">SUI</text>
<text x="687.18" y="1393.71" font-size="14.5" text-anchor="end" fill="#00008b">ART</text>
<text x="753.3" y="1393.71" font-size="14.5" text-anchor="end" fill="#00008b">ROD</text>
<text x="819.42" y="1393.71" font-size="14.5" text-anchor="end" fill="#00008b">CAR</text>
<text x="885.54" y="1393.71" font-size="14.5" text-anchor="end" fill="#00008b">PRI</text>
<text x="754.2" y="1412.31" font-size="14.5" text-anchor="middle" fill="#00008b">Predicted label</text>
<text transform="translate(575.1 1069.97) rotate(-90)" font-size="14.5" text-anchor="end" fill="#00008b">SUI</text>
<text transform="translate(575.1 1136.11) rotate(-90)" font-size="14.5" text-anchor="end" fill="#00008b">ART</text>
<text transform="translate(575.1 1202.25) rotate(-90)" font-size="14.5" text-anchor="end" fill="#00008b">ROD</text>
<text transform="translate(575.1 1268.39) rotate(-90)" font-size="14.5" text-anchor="end" fill="#00008b">CAR</text>
<text transform="translate(575.1 1334.53) rotate(-90)" font-size="14.5" text-anchor="end" fill="#00008b">PRI</text>
<text transform="translate(556.29 1205.95) rotate(-90)" font-size="14.5" text-anchor="middle" fill="#00008b">True label</text>
<defs><linearGradient id="g312" x1="0" y1="0" x2="0" y2="1"><stop offset="0" stop-color="#08306b"/><stop offset="0.06" stop-color="#084082"/><stop offset="0.12" stop-color="#08509b"/><stop offset="0.19" stop-color="#1460a8"/><stop offset="0.25" stop-color="#2070b4"/><stop offset="0.31" stop-color="#3181bd"/><stop offset="0.38" stop-color="#4191c6"/><stop offset="0.44" stop-color="#56a0ce"/><stop offset="0.5" stop-color="#6aaed6"/><stop offset="0.56" stop-color="#84bcdb"/><stop offset="0.62" stop-color="#9dcae1"/><stop offset="0.69" stop-color="#b2d2e8"/><stop offset="0.75" stop-color="#c6dbef"/><stop offset="0.81" stop-color="#d2e3f3"/><stop offset="0.88" stop-color="#deebf7"/><stop offset="0.94" stop-color="#eaf3fb"/><stop offset="1" stop-color="#f7fbff"/></linearGradient></defs>
<rect x="944.91" y="1040.6" width="17.11" height="330.7" fill="url(#g312)" stroke="#111" stroke-width="1.5"/>
<line x1="962.01" y1="1040.6" x2="968.61" y2="1040.6" stroke="#111" stroke-width="1.5"/>
<text x="974.22" y="1045.1" font-size="13.2">1.0</text>
<line x1="962.01" y1="1106.74" x2="968.61" y2="1106.74" stroke="#111" stroke-width="1.5"/>
<text x="974.22" y="1111.24" font-size="13.2">0.8</text>
<line x1="962.01" y1="1172.88" x2="968.61" y2="1172.88" stroke="#111" stroke-width="1.5"/>
<text x="974.22" y="1177.38" font-size="13.2">0.6</text>
<line x1="962.01" y1="1239.02" x2="968.61" y2="1239.02" stroke="#111" stroke-width="1.5"/>
<text x="974.22" y="1243.52" font-size="13.2">0.4</text>
<line x1="962.01" y1="1305.16" x2="968.61" y2="1305.16" stroke="#111" stroke-width="1.5"/>
<text x="974.22" y="1309.66" font-size="13.2">0.2</text>
<line x1="962.01" y1="1371.3" x2="968.61" y2="1371.3" stroke="#111" stroke-width="1.5"/>
<text x="974.22" y="1375.8" font-size="13.2">0.0</text>
<rect x="1117.3" y="1040.6" width="66.42" height="66.44" fill="#08306b"/>
<rect x="1183.42" y="1040.6" width="66.42" height="66.44" fill="#f7fbff"/>
<rect x="1249.54" y="1040.6" width="66.42" height="66.44" fill="#f7fbff"/>
<rect x="1315.66" y="1040.6" width="66.42" height="66.44" fill="#f7fbff"/>
<rect x="1381.78" y="1040.6" width="66.42" height="66.44" fill="#f7fbff"/>
<rect x="1117.3" y="1106.74" width="66.42" height="66.44" fill="#f3f8fe"/>
<rect x="1183.42" y="1106.74" width="66.42" height="66.44" fill="#083776"/>
<rect x="1249.54" y="1106.74" width="66.42" height="66.44" fill="#f3f8fe"/>
<rect x="1315.66" y="1106.74" width="66.42" height="66.44" fill="#f7fbff"/>
<rect x="1381.78" y="1106.74" width="66.42" height="66.44" fill="#f7fbff"/>
<rect x="1117.3" y="1172.88" width="66.42" height="66.44" fill="#f7fbff"/>
<rect x="1183.42" y="1172.88" width="66.42" height="66.44" fill="#f7fbff"/>
<rect x="1249.54" y="1172.88" width="66.42" height="66.44" fill="#08306b"/>
<rect x="1315.66" y="1172.88" width="66.42" height="66.44" fill="#f7fbff"/>
<rect x="1381.78" y="1172.88" width="66.42" height="66.44" fill="#f7fbff"/>
<rect x="1117.3" y="1239.02" width="66.42" height="66.44" fill="#f7fbff"/>
<rect x="1183.42" y="1239.02" width="66.42" height="66.44" fill="#f7fbff"/>
<rect x="1249.54" y="1239.02" width="66.42" height="66.44" fill="#f7fbff"/>
<rect x="1315.66" y="1239.02" width="66.42" height="66.44" fill="#08306b"/>
<rect x="1381.78" y="1239.02" width="66.42" height="66.44" fill="#f7fbff"/>
<rect x="1117.3" y="1305.16" width="66.42" height="66.44" fill="#f7fbff"/>
<rect x="1183.42" y="1305.16" width="66.42" height="66.44" fill="#f5fafe"/>
<rect x="1249.54" y="1305.16" width="66.42" height="66.44" fill="#f5fafe"/>
<rect x="1315.66" y="1305.16" width="66.42" height="66.44" fill="#f7fbff"/>
<rect x="1381.78" y="1305.16" width="66.42" height="66.44" fill="#08326e"/>
<rect x="1117.3" y="1040.6" width="330.6" height="330.7" fill="none" stroke="#111" stroke-width="1.5"/>
<text x="1150.36" y="1079.27" font-size="22.21" text-anchor="middle" fill="#fff">1.00</text>
<text x="1216.48" y="1079.27" font-size="22.21" text-anchor="middle">0.00</text>
<text x="1282.6" y="1079.27" font-size="22.21" text-anchor="middle">0.00</text>
<text x="1348.72" y="1079.27" font-size="22.21" text-anchor="middle">0.00</text>
<text x="1414.84" y="1079.27" font-size="22.21" text-anchor="middle">0.00</text>
<text x="1150.36" y="1145.41" font-size="22.21" text-anchor="middle">0.02</text>
<text x="1216.48" y="1145.41" font-size="22.21" text-anchor="middle" fill="#fff">0.97</text>
<text x="1282.6" y="1145.41" font-size="22.21" text-anchor="middle">0.02</text>
<text x="1348.72" y="1145.41" font-size="22.21" text-anchor="middle">0.00</text>
<text x="1414.84" y="1145.41" font-size="22.21" text-anchor="middle">0.00</text>
<text x="1150.36" y="1211.55" font-size="22.21" text-anchor="middle">0.00</text>
<text x="1216.48" y="1211.55" font-size="22.21" text-anchor="middle">0.00</text>
<text x="1282.6" y="1211.55" font-size="22.21" text-anchor="middle" fill="#fff">1.00</text>
<text x="1348.72" y="1211.55" font-size="22.21" text-anchor="middle">0.00</text>
<text x="1414.84" y="1211.55" font-size="22.21" text-anchor="middle">0.00</text>
<text x="1150.36" y="1277.69" font-size="22.21" text-anchor="middle">0.00</text>
<text x="1216.48" y="1277.69" font-size="22.21" text-anchor="middle">0.00</text>
<text x="1282.6" y="1277.69" font-size="22.21" text-anchor="middle">0.00</text>
<text x="1348.72" y="1277.69" font-size="22.21" text-anchor="middle" fill="#fff">1.00</text>
<text x="1414.84" y="1277.69" font-size="22.21" text-anchor="middle">0.00</text>
<text x="1150.36" y="1343.83" font-size="22.21" text-anchor="middle">0.00</text>
<text x="1216.48" y="1343.83" font-size="22.21" text-anchor="middle">0.01</text>
<text x="1282.6" y="1343.83" font-size="22.21" text-anchor="middle">0.01</text>
<text x="1348.72" y="1343.83" font-size="22.21" text-anchor="middle">0.00</text>
<text x="1414.84" y="1343.83" font-size="22.21" text-anchor="middle" fill="#fff">0.99</text>
<text x="1282.6" y="1033.3" font-size="19.81" text-anchor="middle" fill="#00008b">Confusion matrix (%)</text>
<text x="1149.46" y="1393.71" font-size="14.5" text-anchor="end" fill="#00008b">SUI</text>
<text x="1215.58" y="1393.71" font-size="14.5" text-anchor="end" fill="#00008b">ART</text>
<text x="1281.7" y="1393.71" font-size="14.5" text-anchor="end" fill="#00008b">ROD</text>
<text x="1347.82" y="1393.71" font-size="14.5" text-anchor="end" fill="#00008b">CAR</text>
<text x="1413.94" y="1393.71" font-size="14.5" text-anchor="end" fill="#00008b">PRI</text>
<text x="1282.6" y="1412.31" font-size="14.5" text-anchor="middle" fill="#00008b">Predicted label</text>
<text transform="translate(1103.5 1069.97) rotate(-90)" font-size="14.5" text-anchor="end" fill="#00008b">SUI</text>
<text transform="translate(1103.5 1136.11) rotate(-90)" font-size="14.5" text-anchor="end" fill="#00008b">ART</text>
<text transform="translate(1103.5 1202.25) rotate(-90)" font-size="14.5" text-anchor="end" fill="#00008b">ROD</text>
<text transform="translate(1103.5 1268.39) rotate(-90)" font-size="14.5" text-anchor="end" fill="#00008b">CAR</text>
<text transform="translate(1103.5 1334.53) rotate(-90)" font-size="14.5" text-anchor="end" fill="#00008b">PRI</text>
<text transform="translate(1084.69 1205.95) rotate(-90)" font-size="14.5" text-anchor="middle" fill="#00008b">True label</text>
<defs><linearGradient id="g390" x1="0" y1="0" x2="0" y2="1"><stop offset="0" stop-color="#08306b"/><stop offset="0.06" stop-color="#084082"/><stop offset="0.12" stop-color="#08509b"/><stop offset="0.19" stop-color="#1460a8"/><stop offset="0.25" stop-color="#2070b4"/><stop offset="0.31" stop-color="#3181bd"/><stop offset="0.38" stop-color="#4191c6"/><stop offset="0.44" stop-color="#56a0ce"/><stop offset="0.5" stop-color="#6aaed6"/><stop offset="0.56" stop-color="#84bcdb"/><stop offset="0.62" stop-color="#9dcae1"/><stop offset="0.69" stop-color="#b2d2e8"/><stop offset="0.75" stop-color="#c6dbef"/><stop offset="0.81" stop-color="#d2e3f3"/><stop offset="0.88" stop-color="#deebf7"/><stop offset="0.94" stop-color="#eaf3fb"/><stop offset="1" stop-color="#f7fbff"/></linearGradient></defs>
<rect x="1473.31" y="1040.6" width="17.11" height="330.7" fill="url(#g390)" stroke="#111" stroke-width="1.5"/>
<line x1="1490.41" y1="1040.6" x2="1497.01" y2="1040.6" stroke="#111" stroke-width="1.5"/>
<text x="1502.62" y="1045.1" font-size="13.2">1.0</text>
<line x1="1490.41" y1="1106.74" x2="1497.01" y2="1106.74" stroke="#111" stroke-width="1.5"/>
<text x="1502.62" y="1111.24" font-size="13.2">0.8</text>
<line x1="1490.41" y1="1172.88" x2="1497.01" y2="1172.88" stroke="#111" stroke-width="1.5"/>
<text x="1502.62" y="1177.38" font-size="13.2">0.6</text>
<line x1="1490.41" y1="1239.02" x2="1497.01" y2="1239.02" stroke="#111" stroke-width="1.5"/>
<text x="1502.62" y="1243.52" font-size="13.2">0.4</text>
<line x1="1490.41" y1="1305.16" x2="1497.01" y2="1305.16" stroke="#111" stroke-width="1.5"/>
<text x="1502.62" y="1309.66" font-size="13.2">0.2</text>
<line x1="1490.41" y1="1371.3" x2="1497.01" y2="1371.3" stroke="#111" stroke-width="1.5"/>
<text x="1502.62" y="1375.8" font-size="13.2">0.0</text>
<path d="M78.82 896.91 L78.82 535.42 L141.69 535.42 L141.69 533.09 L445.18 533.09" fill="none" stroke="#1f77b4" stroke-opacity="0.38" stroke-width="1.1"/>
<path d="M78.82 896.91 L78.82 570.56 L82.3 570.56 L82.3 541.82 L84.31 541.82 L84.31 538.55 L89.81 538.55 L89.81 533.09 L445.18 533.09" fill="none" stroke="#ff7f0e" stroke-opacity="0.38" stroke-width="1.1"/>
<path d="M78.82 896.91 L78.82 533.09 L445.18 533.09" fill="none" stroke="#2ca02c" stroke-opacity="0.38" stroke-width="1.1"/>
<path d="M78.82 896.91 L78.82 536.73 L79.55 536.73 L79.55 533.09 L445.18 533.09" fill="none" stroke="#d62728" stroke-opacity="0.38" stroke-width="1.1"/>
<path d="M78.82 896.91 L78.82 565.83 L79.92 565.83 L79.92 538.18 L91.64 538.18 L91.64 535.82 L219.14 535.82 L219.14 533.09 L445.18 533.09" fill="none" stroke="#9467bd" stroke-opacity="0.38" stroke-width="1.1"/>
<line x1="78.82" y1="896.91" x2="445.18" y2="533.09" stroke="#ff0000" stroke-opacity="0.85" stroke-width="1.4" stroke-dasharray="3.6 1.6"/>
<rect x="60.5" y="514.9" width="403" height="400.2" fill="none" stroke="#262626" stroke-width="1.3"/>
<line x1="78.82" y1="915.1" x2="78.82" y2="919.3" stroke="#111" stroke-width="1.1"/>
<line x1="56.3" y1="896.91" x2="60.5" y2="896.91" stroke="#111" stroke-width="1.1"/>
<text x="78.82" y="933.8" font-size="11.9" text-anchor="middle" font-family="'DejaVu Sans', 'Liberation Sans', sans-serif">0.0</text>
<text x="51.9" y="901.31" font-size="11.9" text-anchor="end" font-family="'DejaVu Sans', 'Liberation Sans', sans-serif">0.0</text>
<line x1="152.09" y1="915.1" x2="152.09" y2="919.3" stroke="#111" stroke-width="1.1"/>
<line x1="56.3" y1="824.15" x2="60.5" y2="824.15" stroke="#111" stroke-width="1.1"/>
<text x="152.09" y="933.8" font-size="11.9" text-anchor="middle" font-family="'DejaVu Sans', 'Liberation Sans', sans-serif">0.2</text>
<text x="51.9" y="828.55" font-size="11.9" text-anchor="end" font-family="'DejaVu Sans', 'Liberation Sans', sans-serif">0.2</text>
<line x1="225.36" y1="915.1" x2="225.36" y2="919.3" stroke="#111" stroke-width="1.1"/>
<line x1="56.3" y1="751.38" x2="60.5" y2="751.38" stroke="#111" stroke-width="1.1"/>
<text x="225.36" y="933.8" font-size="11.9" text-anchor="middle" font-family="'DejaVu Sans', 'Liberation Sans', sans-serif">0.4</text>
<text x="51.9" y="755.78" font-size="11.9" text-anchor="end" font-family="'DejaVu Sans', 'Liberation Sans', sans-serif">0.4</text>
<line x1="298.64" y1="915.1" x2="298.64" y2="919.3" stroke="#111" stroke-width="1.1"/>
<line x1="56.3" y1="678.62" x2="60.5" y2="678.62" stroke="#111" stroke-width="1.1"/>
<text x="298.64" y="933.8" font-size="11.9" text-anchor="middle" font-family="'DejaVu Sans', 'Liberation Sans', sans-serif">0.6</text>
<text x="51.9" y="683.02" font-size="11.9" text-anchor="end" font-family="'DejaVu Sans', 'Liberation Sans', sans-serif">0.6</text>
<line x1="371.91" y1="915.1" x2="371.91" y2="919.3" stroke="#111" stroke-width="1.1"/>
<line x1="56.3" y1="605.85" x2="60.5" y2="605.85" stroke="#111" stroke-width="1.1"/>
<text x="371.91" y="933.8" font-size="11.9" text-anchor="middle" font-family="'DejaVu Sans', 'Liberation Sans', sans-serif">0.8</text>
<text x="51.9" y="610.25" font-size="11.9" text-anchor="end" font-family="'DejaVu Sans', 'Liberation Sans', sans-serif">0.8</text>
<line x1="445.18" y1="915.1" x2="445.18" y2="919.3" stroke="#111" stroke-width="1.1"/>
<line x1="56.3" y1="533.09" x2="60.5" y2="533.09" stroke="#111" stroke-width="1.1"/>
<text x="445.18" y="933.8" font-size="11.9" text-anchor="middle" font-family="'DejaVu Sans', 'Liberation Sans', sans-serif">1.0</text>
<text x="51.9" y="537.49" font-size="11.9" text-anchor="end" font-family="'DejaVu Sans', 'Liberation Sans', sans-serif">1.0</text>
<text x="262" y="949.7" font-size="11.9" text-anchor="middle" font-family="'DejaVu Sans', 'Liberation Sans', sans-serif">False Positive Rate</text>
<text transform="translate(25.7 715) rotate(-90)" font-size="11.9" text-anchor="middle" font-family="'DejaVu Sans', 'Liberation Sans', sans-serif">True Positive Rate</text>
<rect x="251.7" y="799.6" width="205.7" height="110" rx="3" ry="3" fill="#fff" fill-opacity="0.8" stroke="#cfcfcf" stroke-width="1.1"/>
<line x1="256.2" y1="809.2" x2="281.3" y2="809.2" stroke="#1f77b4" stroke-opacity="0.4" stroke-width="1.2"/>
<text x="290.6" y="813.5" font-size="12" font-family="'DejaVu Sans', 'Liberation Sans', sans-serif">ROC class 0 (AUC = 0.999)</text>
<line x1="256.2" y1="826.95" x2="281.3" y2="826.95" stroke="#ff7f0e" stroke-opacity="0.4" stroke-width="1.2"/>
<text x="290.6" y="831.25" font-size="12" font-family="'DejaVu Sans', 'Liberation Sans', sans-serif">ROC class 1 (AUC = 0.996)</text>
<line x1="256.2" y1="844.7" x2="281.3" y2="844.7" stroke="#2ca02c" stroke-opacity="0.4" stroke-width="1.2"/>
<text x="290.6" y="849" font-size="12" font-family="'DejaVu Sans', 'Liberation Sans', sans-serif">ROC class 2 (AUC = 1.000)</text>
<line x1="256.2" y1="862.45" x2="281.3" y2="862.45" stroke="#d62728" stroke-opacity="0.4" stroke-width="1.2"/>
<text x="290.6" y="866.75" font-size="12" font-family="'DejaVu Sans', 'Liberation Sans', sans-serif">ROC class 3 (AUC = 0.998)</text>
<line x1="256.2" y1="880.2" x2="281.3" y2="880.2" stroke="#9467bd" stroke-opacity="0.4" stroke-width="1.2"/>
<text x="290.6" y="884.5" font-size="12" font-family="'DejaVu Sans', 'Liberation Sans', sans-serif">ROC class 4 (AUC = 0.997)</text>
<line x1="256.2" y1="897.95" x2="281.3" y2="897.95" stroke="#ff0000" stroke-opacity="0.85" stroke-width="1.4" stroke-dasharray="3.6 1.6"/>
<text x="290.6" y="902.25" font-size="12" font-family="'DejaVu Sans', 'Liberation Sans', sans-serif">Chance</text>
<path d="M610.41 894.33 L610.41 532.97 L974.59 532.97" fill="none" stroke="#4c72b0" stroke-opacity="0.42" stroke-width="1.1"/>
<path d="M610.41 894.33 L610.41 547.06 L613.32 547.06 L613.32 532.97 L974.59 532.97" fill="none" stroke="#dd8452" stroke-opacity="0.42" stroke-width="1.1"/>
<path d="M610.41 894.33 L610.41 532.97 L974.59 532.97" fill="none" stroke="#55a868" stroke-opacity="0.42" stroke-width="1.1"/>
<path d="M610.41 894.33 L610.41 532.97 L974.59 532.97" fill="none" stroke="#c44e52" stroke-opacity="0.42" stroke-width="1.1"/>
<path d="M610.41 894.33 L610.41 545.62 L612.41 545.62 L612.41 538.75 L618.97 538.75 L618.97 535.5 L651.56 535.5 L651.56 532.97 L974.59 532.97" fill="none" stroke="#8172b3" stroke-opacity="0.42" stroke-width="1.1"/>
<line x1="610.41" y1="894.33" x2="974.59" y2="532.97" stroke="#d8323c" stroke-opacity="0.85" stroke-width="1.2" stroke-dasharray="3.4 1.5"/>
<rect x="592.2" y="514.9" width="400.6" height="397.5" fill="none" stroke="#1a1a1a" stroke-width="1.7"/>
<text x="610.41" y="932.8" font-size="13.1" text-anchor="middle">0.0</text>
<text x="581.2" y="899.03" font-size="13.1" text-anchor="end">0.0</text>
<text x="683.25" y="932.8" font-size="13.1" text-anchor="middle">0.2</text>
<text x="581.2" y="826.76" font-size="13.1" text-anchor="end">0.2</text>
<text x="756.08" y="932.8" font-size="13.1" text-anchor="middle">0.4</text>
<text x="581.2" y="754.49" font-size="13.1" text-anchor="end">0.4</text>
<text x="828.92" y="932.8" font-size="13.1" text-anchor="middle">0.6</text>
<text x="581.2" y="682.21" font-size="13.1" text-anchor="end">0.6</text>
<text x="901.75" y="932.8" font-size="13.1" text-anchor="middle">0.8</text>
<text x="581.2" y="609.94" font-size="13.1" text-anchor="end">0.8</text>
<text x="974.59" y="932.8" font-size="13.1" text-anchor="middle">1.0</text>
<text x="581.2" y="537.67" font-size="13.1" text-anchor="end">1.0</text>
<text x="792.5" y="950.7" font-size="14.3" text-anchor="middle">False Positive Rate</text>
<text transform="translate(555 713.65) rotate(-90)" font-size="14.3" text-anchor="middle">True Positive Rate</text>
<rect x="776.2" y="787.5" width="209.1" height="118" rx="3" ry="3" fill="#fff" fill-opacity="0.8" stroke="#cfcfcf" stroke-width="1.1"/>
<line x1="781.3" y1="798.2" x2="807.8" y2="798.2" stroke="#4c72b0" stroke-opacity="0.45" stroke-width="1.2"/>
<text x="818.5" y="802.9" font-size="13.1">ROC class 0 (AUC = 1.000)</text>
<line x1="781.3" y1="817.25" x2="807.8" y2="817.25" stroke="#dd8452" stroke-opacity="0.45" stroke-width="1.2"/>
<text x="818.5" y="821.95" font-size="13.1">ROC class 1 (AUC = 0.999)</text>
<line x1="781.3" y1="836.3" x2="807.8" y2="836.3" stroke="#55a868" stroke-opacity="0.45" stroke-width="1.2"/>
<text x="818.5" y="841" font-size="13.1">ROC class 2 (AUC = 1.000)</text>
<line x1="781.3" y1="855.35" x2="807.8" y2="855.35" stroke="#c44e52" stroke-opacity="0.45" stroke-width="1.2"/>
<text x="818.5" y="860.05" font-size="13.1">ROC class 3 (AUC = 1.000)</text>
<line x1="781.3" y1="874.4" x2="807.8" y2="874.4" stroke="#8172b3" stroke-opacity="0.45" stroke-width="1.2"/>
<text x="818.5" y="879.1" font-size="13.1">ROC class 4 (AUC = 0.999)</text>
<line x1="781.3" y1="893.45" x2="807.8" y2="893.45" stroke="#d8323c" stroke-opacity="0.85" stroke-width="1.2" stroke-dasharray="3.4 1.5"/>
<text x="818.5" y="898.15" font-size="13.1">Chance</text>
<path d="M1138.81 894.33 L1138.81 537.67 L1146.83 537.67 L1146.83 532.97 L1503.09 532.97" fill="none" stroke="#4c72b0" stroke-opacity="0.42" stroke-width="1.1"/>
<path d="M1138.81 894.33 L1138.81 575.61 L1139.91 575.61 L1139.91 532.97 L1503.09 532.97" fill="none" stroke="#dd8452" stroke-opacity="0.42" stroke-width="1.1"/>
<path d="M1138.81 894.33 L1138.81 565.49 L1141.55 565.49 L1141.55 532.97 L1503.09 532.97" fill="none" stroke="#55a868" stroke-opacity="0.42" stroke-width="1.1"/>
<path d="M1138.81 894.33 L1138.81 532.97 L1503.09 532.97" fill="none" stroke="#c44e52" stroke-opacity="0.42" stroke-width="1.1"/>
<path d="M1138.81 894.33 L1138.81 542 L1140.63 542 L1140.63 537.67 L1157.03 537.67 L1158.85 532.97 L1503.09 532.97" fill="none" stroke="#8172b3" stroke-opacity="0.42" stroke-width="1.1"/>
<line x1="1138.81" y1="894.33" x2="1503.09" y2="532.97" stroke="#d8323c" stroke-opacity="0.85" stroke-width="1.2" stroke-dasharray="3.4 1.5"/>
<rect x="1120.6" y="514.9" width="400.7" height="397.5" fill="none" stroke="#1a1a1a" stroke-width="1.7"/>
<text x="1138.81" y="932.8" font-size="13.1" text-anchor="middle">0.0</text>
<text x="1109.6" y="899.03" font-size="13.1" text-anchor="end">0.0</text>
<text x="1211.67" y="932.8" font-size="13.1" text-anchor="middle">0.2</text>
<text x="1109.6" y="826.76" font-size="13.1" text-anchor="end">0.2</text>
<text x="1284.52" y="932.8" font-size="13.1" text-anchor="middle">0.4</text>
<text x="1109.6" y="754.49" font-size="13.1" text-anchor="end">0.4</text>
<text x="1357.38" y="932.8" font-size="13.1" text-anchor="middle">0.6</text>
<text x="1109.6" y="682.21" font-size="13.1" text-anchor="end">0.6</text>
<text x="1430.23" y="932.8" font-size="13.1" text-anchor="middle">0.8</text>
<text x="1109.6" y="609.94" font-size="13.1" text-anchor="end">0.8</text>
<text x="1503.09" y="932.8" font-size="13.1" text-anchor="middle">1.0</text>
<text x="1109.6" y="537.67" font-size="13.1" text-anchor="end">1.0</text>
<text x="1320.95" y="950.7" font-size="14.3" text-anchor="middle">False Positive Rate</text>
<text transform="translate(1083.4 713.65) rotate(-90)" font-size="14.3" text-anchor="middle">True Positive Rate</text>
<rect x="1304.7" y="787.5" width="209.1" height="118" rx="3" ry="3" fill="#fff" fill-opacity="0.8" stroke="#cfcfcf" stroke-width="1.1"/>
<line x1="1309.8" y1="798.2" x2="1336.3" y2="798.2" stroke="#4c72b0" stroke-opacity="0.45" stroke-width="1.2"/>
<text x="1347" y="802.9" font-size="13.1">ROC class 0 (AUC = 1.000)</text>
<line x1="1309.8" y1="817.25" x2="1336.3" y2="817.25" stroke="#dd8452" stroke-opacity="0.45" stroke-width="1.2"/>
<text x="1347" y="821.95" font-size="13.1">ROC class 1 (AUC = 1.000)</text>
<line x1="1309.8" y1="836.3" x2="1336.3" y2="836.3" stroke="#55a868" stroke-opacity="0.45" stroke-width="1.2"/>
<text x="1347" y="841" font-size="13.1">ROC class 2 (AUC = 0.999)</text>
<line x1="1309.8" y1="855.35" x2="1336.3" y2="855.35" stroke="#c44e52" stroke-opacity="0.45" stroke-width="1.2"/>
<text x="1347" y="860.05" font-size="13.1">ROC class 3 (AUC = 1.000)</text>
<line x1="1309.8" y1="874.4" x2="1336.3" y2="874.4" stroke="#8172b3" stroke-opacity="0.45" stroke-width="1.2"/>
<text x="1347" y="879.1" font-size="13.1">ROC class 4 (AUC = 0.999)</text>
<line x1="1309.8" y1="893.45" x2="1336.3" y2="893.45" stroke="#d8323c" stroke-opacity="0.85" stroke-width="1.2" stroke-dasharray="3.4 1.5"/>
<text x="1347" y="898.15" font-size="13.1">Chance</text>
<path d="M82.2 1865.24 L82.2 1512.73 L89.49 1512.73 L89.49 1509.12 L94.95 1509.12 L94.95 1506.23 L124.08 1506.23 L124.08 1504.06 L446.3 1504.06" fill="none" stroke="#4c72b0" stroke-opacity="0.42" stroke-width="1.1"/>
<path d="M82.2 1865.24 L82.2 1525.73 L83.66 1525.73 L83.66 1514.17 L111.7 1514.17 L111.7 1511.64 L114.97 1511.64 L114.97 1509.48 L117.89 1509.48 L117.89 1506.95 L134.27 1506.95 L134.27 1504.06 L446.3 1504.06" fill="none" stroke="#dd8452" stroke-opacity="0.42" stroke-width="1.1"/>
<path d="M82.2 1865.24 L82.2 1544.15 L150.65 1544.15 L150.65 1504.06 L446.3 1504.06" fill="none" stroke="#55a868" stroke-opacity="0.42" stroke-width="1.1"/>
<path d="M82.2 1865.24 L82.2 1504.06 L446.3 1504.06" fill="none" stroke="#c44e52" stroke-opacity="0.42" stroke-width="1.1"/>
<path d="M82.2 1865.24 L82.2 1509.48 L84.39 1509.48 L84.39 1508.39 L93.13 1508.39 L93.13 1506.23 L126.62 1506.23 L126.62 1504.06 L446.3 1504.06" fill="none" stroke="#8172b3" stroke-opacity="0.42" stroke-width="1.1"/>
<line x1="82.2" y1="1865.24" x2="446.3" y2="1504.06" stroke="#d8323c" stroke-opacity="0.85" stroke-width="1.2" stroke-dasharray="3.4 1.5"/>
<rect x="64" y="1486" width="400.5" height="397.3" fill="none" stroke="#1a1a1a" stroke-width="1.7"/>
<text x="82.2" y="1903.7" font-size="13.1" text-anchor="middle">0.0</text>
<text x="53" y="1869.94" font-size="13.1" text-anchor="end">0.0</text>
<text x="155.02" y="1903.7" font-size="13.1" text-anchor="middle">0.2</text>
<text x="53" y="1797.7" font-size="13.1" text-anchor="end">0.2</text>
<text x="227.84" y="1903.7" font-size="13.1" text-anchor="middle">0.4</text>
<text x="53" y="1725.47" font-size="13.1" text-anchor="end">0.4</text>
<text x="300.66" y="1903.7" font-size="13.1" text-anchor="middle">0.6</text>
<text x="53" y="1653.23" font-size="13.1" text-anchor="end">0.6</text>
<text x="373.48" y="1903.7" font-size="13.1" text-anchor="middle">0.8</text>
<text x="53" y="1581" font-size="13.1" text-anchor="end">0.8</text>
<text x="446.3" y="1903.7" font-size="13.1" text-anchor="middle">1.0</text>
<text x="53" y="1508.76" font-size="13.1" text-anchor="end">1.0</text>
<text x="264.25" y="1921.6" font-size="14.3" text-anchor="middle">False Positive Rate</text>
<text transform="translate(26.8 1684.65) rotate(-90)" font-size="14.3" text-anchor="middle">True Positive Rate</text>
<rect x="247.9" y="1758.4" width="209.1" height="118" rx="3" ry="3" fill="#fff" fill-opacity="0.8" stroke="#cfcfcf" stroke-width="1.1"/>
<line x1="253" y1="1769.1" x2="279.5" y2="1769.1" stroke="#4c72b0" stroke-opacity="0.45" stroke-width="1.2"/>
<text x="290.2" y="1773.8" font-size="13.1">ROC class 0 (AUC = 0.999)</text>
<line x1="253" y1="1788.15" x2="279.5" y2="1788.15" stroke="#dd8452" stroke-opacity="0.45" stroke-width="1.2"/>
<text x="290.2" y="1792.85" font-size="13.1">ROC class 1 (AUC = 0.996)</text>
<line x1="253" y1="1807.2" x2="279.5" y2="1807.2" stroke="#55a868" stroke-opacity="0.45" stroke-width="1.2"/>
<text x="290.2" y="1811.9" font-size="13.1">ROC class 2 (AUC = 0.979)</text>
<line x1="253" y1="1826.25" x2="279.5" y2="1826.25" stroke="#c44e52" stroke-opacity="0.45" stroke-width="1.2"/>
<text x="290.2" y="1830.95" font-size="13.1">ROC class 3 (AUC = 1.000)</text>
<line x1="253" y1="1845.3" x2="279.5" y2="1845.3" stroke="#8172b3" stroke-opacity="0.45" stroke-width="1.2"/>
<text x="290.2" y="1850" font-size="13.1">ROC class 4 (AUC = 0.999)</text>
<line x1="253" y1="1864.35" x2="279.5" y2="1864.35" stroke="#d8323c" stroke-opacity="0.85" stroke-width="1.2" stroke-dasharray="3.4 1.5"/>
<text x="290.2" y="1869.05" font-size="13.1">Chance</text>
<path d="M610.7 1865.24 L610.7 1504.06 L974.8 1504.06" fill="none" stroke="#4c72b0" stroke-opacity="0.42" stroke-width="1.1"/>
<path d="M610.7 1865.24 L610.7 1514.89 L612.16 1514.89 L612.16 1504.06 L974.8 1504.06" fill="none" stroke="#dd8452" stroke-opacity="0.42" stroke-width="1.1"/>
<path d="M610.7 1865.24 L610.7 1544.15 L718.11 1544.15 L718.11 1504.06 L974.8 1504.06" fill="none" stroke="#55a868" stroke-opacity="0.42" stroke-width="1.1"/>
<path d="M610.7 1865.24 L610.7 1504.06 L974.8 1504.06" fill="none" stroke="#c44e52" stroke-opacity="0.42" stroke-width="1.1"/>
<path d="M610.7 1865.24 L610.7 1509.48 L613.62 1509.48 L613.62 1506.95 L626.72 1506.95 L626.72 1504.06 L974.8 1504.06" fill="none" stroke="#8172b3" stroke-opacity="0.42" stroke-width="1.1"/>
<line x1="610.7" y1="1865.24" x2="974.8" y2="1504.06" stroke="#d8323c" stroke-opacity="0.85" stroke-width="1.2" stroke-dasharray="3.4 1.5"/>
<rect x="592.5" y="1486" width="400.5" height="397.3" fill="none" stroke="#1a1a1a" stroke-width="1.7"/>
<text x="610.7" y="1903.7" font-size="13.1" text-anchor="middle">0.0</text>
<text x="581.5" y="1869.94" font-size="13.1" text-anchor="end">0.0</text>
<text x="683.52" y="1903.7" font-size="13.1" text-anchor="middle">0.2</text>
<text x="581.5" y="1797.7" font-size="13.1" text-anchor="end">0.2</text>
<text x="756.34" y="1903.7" font-size="13.1" text-anchor="middle">0.4</text>
<text x="581.5" y="1725.47" font-size="13.1" text-anchor="end">0.4</text>
<text x="829.16" y="1903.7" font-size="13.1" text-anchor="middle">0.6</text>
<text x="581.5" y="1653.23" font-size="13.1" text-anchor="end">0.6</text>
<text x="901.98" y="1903.7" font-size="13.1" text-anchor="middle">0.8</text>
<text x="581.5" y="1581" font-size="13.1" text-anchor="end">0.8</text>
<text x="974.8" y="1903.7" font-size="13.1" text-anchor="middle">1.0</text>
<text x="581.5" y="1508.76" font-size="13.1" text-anchor="end">1.0</text>
<text x="792.75" y="1921.6" font-size="14.3" text-anchor="middle">False Positive Rate</text>
<text transform="translate(555.3 1684.65) rotate(-90)" font-size="14.3" text-anchor="middle">True Positive Rate</text>
<rect x="776.4" y="1758.4" width="209.1" height="118" rx="3" ry="3" fill="#fff" fill-opacity="0.8" stroke="#cfcfcf" stroke-width="1.1"/>
<line x1="781.5" y1="1769.1" x2="808" y2="1769.1" stroke="#4c72b0" stroke-opacity="0.45" stroke-width="1.2"/>
<text x="818.7" y="1773.8" font-size="13.1">ROC class 0 (AUC = 1.000)</text>
<line x1="781.5" y1="1788.15" x2="808" y2="1788.15" stroke="#dd8452" stroke-opacity="0.45" stroke-width="1.2"/>
<text x="818.7" y="1792.85" font-size="13.1">ROC class 1 (AUC = 0.999)</text>
<line x1="781.5" y1="1807.2" x2="808" y2="1807.2" stroke="#55a868" stroke-opacity="0.45" stroke-width="1.2"/>
<text x="818.7" y="1811.9" font-size="13.1">ROC class 2 (AUC = 0.967)</text>
<line x1="781.5" y1="1826.25" x2="808" y2="1826.25" stroke="#c44e52" stroke-opacity="0.45" stroke-width="1.2"/>
<text x="818.7" y="1830.95" font-size="13.1">ROC class 3 (AUC = 1.000)</text>
<line x1="781.5" y1="1845.3" x2="808" y2="1845.3" stroke="#8172b3" stroke-opacity="0.45" stroke-width="1.2"/>
<text x="818.7" y="1850" font-size="13.1">ROC class 4 (AUC = 1.000)</text>
<line x1="781.5" y1="1864.35" x2="808" y2="1864.35" stroke="#d8323c" stroke-opacity="0.85" stroke-width="1.2" stroke-dasharray="3.4 1.5"/>
<text x="818.7" y="1869.05" font-size="13.1">Chance</text>
<path d="M1139.11 1865.24 L1139.11 1522.12 L1140.57 1522.12 L1140.57 1504.06 L1503.29 1504.06" fill="none" stroke="#4c72b0" stroke-opacity="0.42" stroke-width="1.1"/>
<path d="M1139.11 1865.24 L1139.11 1551.37 L1140.93 1551.37 L1140.93 1505.87 L1142.75 1505.87 L1142.75 1504.06 L1503.29 1504.06" fill="none" stroke="#dd8452" stroke-opacity="0.42" stroke-width="1.1"/>
<path d="M1139.11 1865.24 L1139.11 1584.6 L1147.05 1584.6 L1147.05 1504.06 L1503.29 1504.06" fill="none" stroke="#55a868" stroke-opacity="0.42" stroke-width="1.1"/>
<path d="M1139.11 1865.24 L1139.11 1504.06 L1503.29 1504.06" fill="none" stroke="#c44e52" stroke-opacity="0.42" stroke-width="1.1"/>
<path d="M1139.11 1865.24 L1139.11 1509.48 L1156.04 1509.48 L1156.04 1506.59 L1299.17 1506.59 L1299.17 1504.06 L1503.29 1504.06" fill="none" stroke="#8172b3" stroke-opacity="0.42" stroke-width="1.1"/>
<line x1="1139.11" y1="1865.24" x2="1503.29" y2="1504.06" stroke="#d8323c" stroke-opacity="0.85" stroke-width="1.2" stroke-dasharray="3.4 1.5"/>
<rect x="1120.9" y="1486" width="400.6" height="397.3" fill="none" stroke="#1a1a1a" stroke-width="1.7"/>
<text x="1139.11" y="1903.7" font-size="13.1" text-anchor="middle">0.0</text>
<text x="1109.9" y="1869.94" font-size="13.1" text-anchor="end">0.0</text>
<text x="1211.95" y="1903.7" font-size="13.1" text-anchor="middle">0.2</text>
<text x="1109.9" y="1797.7" font-size="13.1" text-anchor="end">0.2</text>
<text x="1284.78" y="1903.7" font-size="13.1" text-anchor="middle">0.4</text>
<text x="1109.9" y="1725.47" font-size="13.1" text-anchor="end">0.4</text>
<text x="1357.62" y="1903.7" font-size="13.1" text-anchor="middle">0.6</text>
<text x="1109.9" y="1653.23" font-size="13.1" text-anchor="end">0.6</text>
<text x="1430.45" y="1903.7" font-size="13.1" text-anchor="middle">0.8</text>
<text x="1109.9" y="1581" font-size="13.1" text-anchor="end">0.8</text>
<text x="1503.29" y="1903.7" font-size="13.1" text-anchor="middle">1.0</text>
<text x="1109.9" y="1508.76" font-size="13.1" text-anchor="end">1.0</text>
<text x="1321.2" y="1921.6" font-size="14.3" text-anchor="middle">False Positive Rate</text>
<text transform="translate(1083.7 1684.65) rotate(-90)" font-size="14.3" text-anchor="middle">True Positive Rate</text>
<rect x="1304.9" y="1758.4" width="209.1" height="118" rx="3" ry="3" fill="#fff" fill-opacity="0.8" stroke="#cfcfcf" stroke-width="1.1"/>
<line x1="1310" y1="1769.1" x2="1336.5" y2="1769.1" stroke="#4c72b0" stroke-opacity="0.45" stroke-width="1.2"/>
<text x="1347.2" y="1773.8" font-size="13.1">ROC class 0 (AUC = 1.000)</text>
<line x1="1310" y1="1788.15" x2="1336.5" y2="1788.15" stroke="#dd8452" stroke-opacity="0.45" stroke-width="1.2"/>
<text x="1347.2" y="1792.85" font-size="13.1">ROC class 1 (AUC = 0.999)</text>
<line x1="1310" y1="1807.2" x2="1336.5" y2="1807.2" stroke="#55a868" stroke-opacity="0.45" stroke-width="1.2"/>
<text x="1347.2" y="1811.9" font-size="13.1">ROC class 2 (AUC = 0.995)</text>
<line x1="1310" y1="1826.25" x2="1336.5" y2="1826.25" stroke="#c44e52" stroke-opacity="0.45" stroke-width="1.2"/>
<text x="1347.2" y="1830.95" font-size="13.1">ROC class 3 (AUC = 1.000)</text>
<line x1="1310" y1="1845.3" x2="1336.5" y2="1845.3" stroke="#8172b3" stroke-opacity="0.45" stroke-width="1.2"/>
<text x="1347.2" y="1850" font-size="13.1">ROC class 4 (AUC = 0.996)</text>
<line x1="1310" y1="1864.35" x2="1336.5" y2="1864.35" stroke="#d8323c" stroke-opacity="0.85" stroke-width="1.2" stroke-dasharray="3.4 1.5"/>
<text x="1347.2" y="1869.05" font-size="13.1">Chance</text>
<line x1="132.2" y1="2310.08" x2="723.29" y2="2310.08" stroke="#111" stroke-width="3.7" stroke-linecap="round" stroke-dasharray="0 11.05"/>
<path d="M128.8 2064.41V2090.1M125.4 2064.41H132.2M125.4 2090.1H132.2M140.81 2135.27V2211.46M137.41 2135.27H144.21M137.41 2211.46H144.21M152.82 2215.44V2269.77M149.42 2215.44H156.22M149.42 2269.77H156.22M164.83 2240.1V2292.81M161.43 2240.1H168.23M161.43 2292.81H168.23M176.84 2247.33V2302.85M173.44 2247.33H180.24M173.44 2302.85H180.24M188.85 2256.04V2302.11M185.45 2256.04H192.25M185.45 2302.11H192.25M200.86 2265.79V2302.11M197.46 2265.79H204.26M197.46 2302.11H204.26M212.87 2265.05V2302.85M209.47 2265.05H216.27M209.47 2302.85H216.27M224.88 2266.38V2306.39M221.48 2266.38H228.28M221.48 2306.39H228.28M236.89 2265.79V2306.39M233.49 2265.79H240.29M233.49 2306.39H240.29M248.9 2271.1V2305.65M245.5 2271.1H252.3M245.5 2305.65H252.3M260.91 2267.12V2309.05M257.51 2267.12H264.31M257.51 2309.05H264.31M272.92 2268.3V2309.05M269.52 2268.3H276.32M269.52 2309.05H276.32M284.93 2270.51V2308.31M281.53 2270.51H288.33M281.53 2308.31H288.33M296.94 2275.83V2306.83M293.54 2275.83H300.34M293.54 2306.83H300.34M308.95 2275.09V2309.05M305.55 2275.09H312.35M305.55 2309.05H312.35M320.96 2276.42V2308.31M317.56 2276.42H324.36M317.56 2308.31H324.36M332.97 2276.42V2308.31M329.57 2276.42H336.37M329.57 2308.31H336.37M344.98 2273.76V2310.08M341.58 2273.76H348.38M341.58 2310.08H348.38M356.99 2277.75V2310.08M353.59 2277.75H360.39M353.59 2310.08H360.39M369 2274.65V2306.83M365.6 2274.65H372.4M365.6 2306.83H372.4M381.01 2280.99V2310.82M377.61 2280.99H384.41M377.61 2310.82H384.41M393.02 2274.35V2310.08M389.62 2274.35H396.42M389.62 2310.08H396.42M405.03 2280.11V2308.46M401.63 2280.11H408.43M401.63 2308.46H408.43M417.04 2277.45V2310.08M413.64 2277.45H420.44M413.64 2310.08H420.44M429.05 2280.99V2310.08M425.65 2280.99H432.45M425.65 2310.08H432.45M441.06 2282.03V2310.67M437.66 2282.03H444.46M437.66 2310.67H444.46M453.07 2282.77V2310.67M449.67 2282.77H456.47M449.67 2310.67H456.47M465.08 2284.1V2312M461.68 2284.1H468.48M461.68 2312H468.48M477.09 2281.44V2310.67M473.69 2281.44H480.49M473.69 2310.67H480.49M489.1 2282.32V2311.41M485.7 2282.32H492.5M485.7 2311.41H492.5M501.11 2281.44V2314.07M497.71 2281.44H504.51M497.71 2314.07H504.51M513.12 2280.99V2312M509.72 2280.99H516.52M509.72 2312H516.52M525.13 2280.11V2312.44M521.73 2280.11H528.53M521.73 2312.44H528.53M537.14 2284.98V2310.67M533.74 2284.98H540.54M533.74 2310.67H540.54M549.15 2279.67V2311.41M545.75 2279.67H552.55M545.75 2311.41H552.55M561.16 2285.42V2312.44M557.76 2285.42H564.56M557.76 2312.44H564.56M573.17 2285.42V2312M569.77 2285.42H576.57M569.77 2312H576.57M585.18 2287.49V2312.44M581.78 2287.49H588.58M581.78 2312.44H588.58M597.19 2288.08V2313.33M593.79 2288.08H600.59M593.79 2313.33H600.59M609.2 2290.74V2312.44M605.8 2290.74H612.6M605.8 2312.44H612.6M621.21 2289.41V2311.41M617.81 2289.41H624.61M617.81 2311.41H624.61M633.22 2288.08V2312.44M629.82 2288.08H636.62M629.82 2312.44H636.62M645.23 2282.77V2315.4M641.83 2282.77H648.63M641.83 2315.4H648.63M657.24 2289.41V2314.07M653.84 2289.41H660.64M653.84 2314.07H660.64M669.25 2292.07V2312.44M665.85 2292.07H672.65M665.85 2312.44H672.65M681.26 2290V2311.41M677.86 2290H684.66M677.86 2311.41H684.66M693.27 2288.08V2313.33M689.87 2288.08H696.67M689.87 2313.33H696.67M705.28 2284.1V2312M701.88 2284.1H708.68M701.88 2312H708.68M717.29 2290.74V2313.33M713.89 2290.74H720.69M713.89 2313.33H720.69" fill="none" stroke="#14b56e" stroke-width="1.7"/>
<path d="M128.8 2077.69 L140.81 2174.99 L152.82 2244.53 L164.83 2267.12 L176.84 2275.09 L188.85 2279.67 L200.86 2284.39 L212.87 2284.98 L224.88 2286.31 L236.89 2286.31 L248.9 2287.79 L260.91 2288.23 L272.92 2288.97 L284.93 2289.41 L296.94 2291.62 L308.95 2292.36 L320.96 2292.36 L332.97 2292.36 L344.98 2292.36 L356.99 2294.87 L369 2289.12 L381.01 2295.32 L393.02 2292.66 L405.03 2294.73 L417.04 2293.4 L429.05 2295.46 L441.06 2296.5 L453.07 2297.38 L465.08 2297.83 L477.09 2296.5 L489.1 2296.79 L501.11 2297.83 L513.12 2297.38 L525.13 2296.79 L537.14 2297.38 L549.15 2295.32 L561.16 2298.71 L573.17 2299.15 L585.18 2300.78 L597.19 2301.07 L609.2 2301.81 L621.21 2300.48 L633.22 2300.48 L645.23 2299.45 L657.24 2301.37 L669.25 2302.11 L681.26 2301.07 L693.27 2300.78 L705.28 2298.12 L717.29 2301.81" fill="none" stroke="#3b3bee" stroke-width="6.8" stroke-linejoin="round" stroke-linecap="round"/>
<circle cx="128.8" cy="2077.69" r="3" fill="#93bdf4"/>
<circle cx="140.81" cy="2174.99" r="2.6" fill="#93bdf4"/>
<circle cx="152.82" cy="2244.53" r="2.6" fill="#93bdf4"/>
<circle cx="164.83" cy="2267.12" r="2.6" fill="#93bdf4"/>
<circle cx="176.84" cy="2275.09" r="2.6" fill="#93bdf4"/>
<circle cx="188.85" cy="2279.67" r="2.6" fill="#93bdf4"/>
<circle cx="200.86" cy="2284.39" r="2.6" fill="#93bdf4"/>
<circle cx="212.87" cy="2284.98" r="2.6" fill="#93bdf4"/>
<circle cx="224.88" cy="2286.31" r="2.6" fill="#93bdf4"/>
<circle cx="236.89" cy="2286.31" r="2.6" fill="#93bdf4"/>
<circle cx="248.9" cy="2287.79" r="2.6" fill="#93bdf4"/>
<circle cx="260.91" cy="2288.23" r="2.6" fill="#93bdf4"/>
<circle cx="272.92" cy="2288.97" r="2.6" fill="#93bdf4"/>
<circle cx="284.93" cy="2289.41" r="2.6" fill="#93bdf4"/>
<circle cx="296.94" cy="2291.62" r="2.6" fill="#93bdf4"/>
<circle cx="308.95" cy="2292.36" r="2.6" fill="#93bdf4"/>
<circle cx="320.96" cy="2292.36" r="2.6" fill="#93bdf4"/>
<circle cx="332.97" cy="2292.36" r="2.6" fill="#93bdf4"/>
<circle cx="344.98" cy="2292.36" r="2.6" fill="#93bdf4"/>
<circle cx="356.99" cy="2294.87" r="2.6" fill="#93bdf4"/>
<circle cx="369" cy="2289.12" r="2.6" fill="#93bdf4"/>
<circle cx="381.01" cy="2295.32" r="2.6" fill="#93bdf4"/>
<circle cx="393.02" cy="2292.66" r="2.6" fill="#93bdf4"/>
<circle cx="405.03" cy="2294.73" r="2.6" fill="#93bdf4"/>
<circle cx="417.04" cy="2293.4" r="2.6" fill="#93bdf4"/>
<circle cx="429.05" cy="2295.46" r="2.6" fill="#93bdf4"/>
<circle cx="441.06" cy="2296.5" r="2.6" fill="#93bdf4"/>
<circle cx="453.07" cy="2297.38" r="2.6" fill="#93bdf4"/>
<circle cx="465.08" cy="2297.83" r="2.6" fill="#93bdf4"/>
<circle cx="477.09" cy="2296.5" r="2.6" fill="#93bdf4"/>
<circle cx="489.1" cy="2296.79" r="2.6" fill="#93bdf4"/>
<circle cx="501.11" cy="2297.83" r="2.6" fill="#93bdf4"/>
<circle cx="513.12" cy="2297.38" r="2.6" fill="#93bdf4"/>
<circle cx="525.13" cy="2296.79" r="2.6" fill="#93bdf4"/>
<circle cx="537.14" cy="2297.38" r="2.6" fill="#93bdf4"/>
<circle cx="549.15" cy="2295.32" r="2.6" fill="#93bdf4"/>
<circle cx="561.16" cy="2298.71" r="2.6" fill="#93bdf4"/>
<circle cx="573.17" cy="2299.15" r="2.6" fill="#93bdf4"/>
<circle cx="585.18" cy="2300.78" r="2.6" fill="#93bdf4"/>
<circle cx="597.19" cy="2301.07" r="2.6" fill="#93bdf4"/>
<circle cx="609.2" cy="2301.81" r="2.6" fill="#93bdf4"/>
<circle cx="621.21" cy="2300.48" r="2.6" fill="#93bdf4"/>
<circle cx="633.22" cy="2300.48" r="2.6" fill="#93bdf4"/>
<circle cx="645.23" cy="2299.45" r="2.6" fill="#93bdf4"/>
<circle cx="657.24" cy="2301.37" r="2.6" fill="#93bdf4"/>
<circle cx="669.25" cy="2302.11" r="2.6" fill="#93bdf4"/>
<circle cx="681.26" cy="2301.07" r="2.6" fill="#93bdf4"/>
<circle cx="693.27" cy="2300.78" r="2.6" fill="#93bdf4"/>
<circle cx="705.28" cy="2298.12" r="2.6" fill="#93bdf4"/>
<circle cx="717.29" cy="2301.81" r="2.6" fill="#93bdf4"/>
<path d="M121.2 2014.8V2383.9H730.3" fill="none" stroke="#111" stroke-width="1.9" stroke-linecap="square"/>
<line x1="106.2" y1="2014.8" x2="121.2" y2="2014.8" stroke="#111" stroke-width="1.9"/>
<text x="101" y="2023.68" font-size="24.79" text-anchor="end">2.0</text>
<line x1="106.2" y1="2088.62" x2="121.2" y2="2088.62" stroke="#111" stroke-width="1.9"/>
<text x="101" y="2097.5" font-size="24.79" text-anchor="end">1.5</text>
<line x1="106.2" y1="2162.44" x2="121.2" y2="2162.44" stroke="#111" stroke-width="1.9"/>
<text x="101" y="2171.32" font-size="24.79" text-anchor="end">1.0</text>
<line x1="106.2" y1="2236.26" x2="121.2" y2="2236.26" stroke="#111" stroke-width="1.9"/>
<text x="101" y="2245.14" font-size="24.79" text-anchor="end">0.5</text>
<line x1="106.2" y1="2310.08" x2="121.2" y2="2310.08" stroke="#111" stroke-width="1.9"/>
<text x="101" y="2318.96" font-size="24.79" text-anchor="end">0.0</text>
<line x1="106.2" y1="2383.9" x2="121.2" y2="2383.9" stroke="#111" stroke-width="1.9"/>
<text x="101" y="2392.78" font-size="24.79" text-anchor="end">-0.5</text>
<line x1="128.8" y1="2383.9" x2="128.8" y2="2399.1" stroke="#111" stroke-width="1.9"/>
<text transform="translate(137.69 2403.5) rotate(-90)" font-size="24" text-anchor="end" style="font-kerning:none">1</text>
<line x1="152.82" y1="2383.9" x2="152.82" y2="2399.1" stroke="#111" stroke-width="1.9"/>
<text transform="translate(161.71 2403.5) rotate(-90)" font-size="24" text-anchor="end" style="font-kerning:none">3</text>
<line x1="176.84" y1="2383.9" x2="176.84" y2="2399.1" stroke="#111" stroke-width="1.9"/>
<text transform="translate(185.73 2403.5) rotate(-90)" font-size="24" text-anchor="end" style="font-kerning:none">5</text>
<line x1="200.86" y1="2383.9" x2="200.86" y2="2399.1" stroke="#111" stroke-width="1.9"/>
<text transform="translate(209.75 2403.5) rotate(-90)" font-size="24" text-anchor="end" style="font-kerning:none">7</text>
<line x1="224.88" y1="2383.9" x2="224.88" y2="2399.1" stroke="#111" stroke-width="1.9"/>
<text transform="translate(233.77 2403.5) rotate(-90)" font-size="24" text-anchor="end" style="font-kerning:none">9</text>
<line x1="248.9" y1="2383.9" x2="248.9" y2="2399.1" stroke="#111" stroke-width="1.9"/>
<text transform="translate(257.79 2403.5) rotate(-90)" font-size="24" text-anchor="end" style="font-kerning:none">11</text>
<line x1="272.92" y1="2383.9" x2="272.92" y2="2399.1" stroke="#111" stroke-width="1.9"/>
<text transform="translate(281.81 2403.5) rotate(-90)" font-size="24" text-anchor="end" style="font-kerning:none">13</text>
<line x1="296.94" y1="2383.9" x2="296.94" y2="2399.1" stroke="#111" stroke-width="1.9"/>
<text transform="translate(305.83 2403.5) rotate(-90)" font-size="24" text-anchor="end" style="font-kerning:none">15</text>
<line x1="320.96" y1="2383.9" x2="320.96" y2="2399.1" stroke="#111" stroke-width="1.9"/>
<text transform="translate(329.85 2403.5) rotate(-90)" font-size="24" text-anchor="end" style="font-kerning:none">17</text>
<line x1="344.98" y1="2383.9" x2="344.98" y2="2399.1" stroke="#111" stroke-width="1.9"/>
<text transform="translate(353.87 2403.5) rotate(-90)" font-size="24" text-anchor="end" style="font-kerning:none">19</text>
<line x1="369" y1="2383.9" x2="369" y2="2399.1" stroke="#111" stroke-width="1.9"/>
<text transform="translate(377.89 2403.5) rotate(-90)" font-size="24" text-anchor="end" style="font-kerning:none">21</text>
<line x1="393.02" y1="2383.9" x2="393.02" y2="2399.1" stroke="#111" stroke-width="1.9"/>
<text transform="translate(401.91 2403.5) rotate(-90)" font-size="24" text-anchor="end" style="font-kerning:none">23</text>
<line x1="417.04" y1="2383.9" x2="417.04" y2="2399.1" stroke="#111" stroke-width="1.9"/>
<text transform="translate(425.93 2403.5) rotate(-90)" font-size="24" text-anchor="end" style="font-kerning:none">25</text>
<line x1="441.06" y1="2383.9" x2="441.06" y2="2399.1" stroke="#111" stroke-width="1.9"/>
<text transform="translate(449.95 2403.5) rotate(-90)" font-size="24" text-anchor="end" style="font-kerning:none">27</text>
<line x1="465.08" y1="2383.9" x2="465.08" y2="2399.1" stroke="#111" stroke-width="1.9"/>
<text transform="translate(473.97 2403.5) rotate(-90)" font-size="24" text-anchor="end" style="font-kerning:none">29</text>
<line x1="489.1" y1="2383.9" x2="489.1" y2="2399.1" stroke="#111" stroke-width="1.9"/>
<text transform="translate(497.99 2403.5) rotate(-90)" font-size="24" text-anchor="end" style="font-kerning:none">31</text>
<line x1="513.12" y1="2383.9" x2="513.12" y2="2399.1" stroke="#111" stroke-width="1.9"/>
<text transform="translate(522.01 2403.5) rotate(-90)" font-size="24" text-anchor="end" style="font-kerning:none">33</text>
<line x1="537.14" y1="2383.9" x2="537.14" y2="2399.1" stroke="#111" stroke-width="1.9"/>
<text transform="translate(546.03 2403.5) rotate(-90)" font-size="24" text-anchor="end" style="font-kerning:none">35</text>
<line x1="561.16" y1="2383.9" x2="561.16" y2="2399.1" stroke="#111" stroke-width="1.9"/>
<text transform="translate(570.05 2403.5) rotate(-90)" font-size="24" text-anchor="end" style="font-kerning:none">37</text>
<line x1="585.18" y1="2383.9" x2="585.18" y2="2399.1" stroke="#111" stroke-width="1.9"/>
<text transform="translate(594.07 2403.5) rotate(-90)" font-size="24" text-anchor="end" style="font-kerning:none">39</text>
<line x1="609.2" y1="2383.9" x2="609.2" y2="2399.1" stroke="#111" stroke-width="1.9"/>
<text transform="translate(618.09 2403.5) rotate(-90)" font-size="24" text-anchor="end" style="font-kerning:none">41</text>
<line x1="633.22" y1="2383.9" x2="633.22" y2="2399.1" stroke="#111" stroke-width="1.9"/>
<text transform="translate(642.11 2403.5) rotate(-90)" font-size="24" text-anchor="end" style="font-kerning:none">43</text>
<line x1="657.24" y1="2383.9" x2="657.24" y2="2399.1" stroke="#111" stroke-width="1.9"/>
<text transform="translate(666.13 2403.5) rotate(-90)" font-size="24" text-anchor="end" style="font-kerning:none">45</text>
<line x1="681.26" y1="2383.9" x2="681.26" y2="2399.1" stroke="#111" stroke-width="1.9"/>
<text transform="translate(690.15 2403.5) rotate(-90)" font-size="24" text-anchor="end" style="font-kerning:none">47</text>
<line x1="705.28" y1="2383.9" x2="705.28" y2="2399.1" stroke="#111" stroke-width="1.9"/>
<text transform="translate(714.17 2403.5) rotate(-90)" font-size="24" text-anchor="end" style="font-kerning:none">49</text>
<text transform="translate(39.6 2200.85) rotate(-90)" font-size="24.29" text-anchor="middle">Training loss value</text>
<text x="425.05" y="2464.9" font-size="24" text-anchor="middle">Training epoch</text>
<line x1="941.1" y1="2311" x2="1525.33" y2="2311" stroke="#111" stroke-width="3.7" stroke-linecap="round" stroke-dasharray="0 11.05"/>
<path d="M937.7 2070.58V2111.11M934.3 2070.58H941.1M934.3 2111.11H941.1M949.57 2189.69V2269.16M946.17 2189.69H952.97M946.17 2269.16H952.97M961.44 2248.74V2303.13M958.04 2248.74H964.84M958.04 2303.13H964.84M973.31 2268.72V2307.06M969.91 2268.72H976.71M969.91 2307.06H976.71M985.18 2271.34V2309.69M981.78 2271.34H988.58M981.78 2309.69H988.58M997.05 2275.28V2310.42M993.65 2275.28H1000.45M993.65 2310.42H1000.45M1008.92 2275.28V2310.42M1005.52 2275.28H1012.32M1005.52 2310.42H1012.32M1020.79 2280.09V2311.58M1017.39 2280.09H1024.19M1017.39 2311.58H1024.19M1032.66 2284.03V2312.31M1029.26 2284.03H1036.06M1029.26 2312.31H1036.06M1044.53 2284.46V2314.21M1041.13 2284.46H1047.93M1041.13 2314.21H1047.93M1056.4 2287.23V2312.31M1053 2287.23H1059.8M1053 2312.31H1059.8M1068.27 2286.65V2315.81M1064.87 2286.65H1071.67M1064.87 2315.81H1071.67M1080.14 2286.36V2314.5M1076.74 2286.36H1083.54M1076.74 2314.5H1083.54M1092.01 2288.98V2314.5M1088.61 2288.98H1095.41M1088.61 2314.5H1095.41M1103.88 2291.17V2314.94M1100.48 2291.17H1107.28M1100.48 2314.94H1107.28M1115.75 2293.07V2314.94M1112.35 2293.07H1119.15M1112.35 2314.94H1119.15M1127.62 2293.8V2316.25M1124.22 2293.8H1131.02M1124.22 2316.25H1131.02M1139.49 2293.21V2316.25M1136.09 2293.21H1142.89M1136.09 2316.25H1142.89M1151.36 2293.8V2315.81M1147.96 2293.8H1154.76M1147.96 2315.81H1154.76M1163.23 2291.61V2316.25M1159.83 2291.61H1166.63M1159.83 2316.25H1166.63M1175.1 2294.38V2317.12M1171.7 2294.38H1178.5M1171.7 2317.12H1178.5M1186.97 2294.38V2317.12M1183.57 2294.38H1190.37M1183.57 2317.12H1190.37M1198.84 2294.52V2318.44M1195.44 2294.52H1202.24M1195.44 2318.44H1202.24M1210.71 2298.5V2316.73M1207.31 2298.5H1214.11M1207.31 2316.73H1214.11M1222.58 2298.04V2316.59M1219.18 2298.04H1225.98M1219.18 2316.59H1225.98M1234.45 2297.15V2317.85M1231.05 2297.15H1237.85M1231.05 2317.85H1237.85M1246.32 2299.29V2316.04M1242.92 2299.29H1249.72M1242.92 2316.04H1249.72M1258.19 2298.43V2317.45M1254.79 2298.43H1261.59M1254.79 2317.45H1261.59M1270.06 2295.85V2316.9M1266.66 2295.85H1273.46M1266.66 2316.9H1273.46M1281.93 2296.41V2316.89M1278.53 2296.41H1285.33M1278.53 2316.89H1285.33M1293.8 2297.1V2317.65M1290.4 2297.1H1297.2M1290.4 2317.65H1297.2M1305.67 2297.11V2315.97M1302.27 2297.11H1309.07M1302.27 2315.97H1309.07M1317.54 2297.51V2316.27M1314.14 2297.51H1320.94M1314.14 2316.27H1320.94M1329.41 2296.99V2317.85M1326.01 2296.99H1332.81M1326.01 2317.85H1332.81M1341.28 2296.68V2316.62M1337.88 2296.68H1344.68M1337.88 2316.62H1344.68M1353.15 2298.28V2317.93M1349.75 2298.28H1356.55M1349.75 2317.93H1356.55M1365.02 2296.31V2316.9M1361.62 2296.31H1368.42M1361.62 2316.9H1368.42M1376.89 2296.82V2315.95M1373.49 2296.82H1380.29M1373.49 2315.95H1380.29M1388.76 2296.84V2315.85M1385.36 2296.84H1392.16M1385.36 2315.85H1392.16M1400.63 2297.95V2316.13M1397.23 2297.95H1404.03M1397.23 2316.13H1404.03M1412.5 2295.11V2312.46M1409.1 2295.11H1415.9M1409.1 2312.46H1415.9M1424.37 2296.26V2317.77M1420.97 2296.26H1427.77M1420.97 2317.77H1427.77M1436.24 2298.86V2317.49M1432.84 2298.86H1439.64M1432.84 2317.49H1439.64M1448.11 2295.96V2316.98M1444.71 2295.96H1451.51M1444.71 2316.98H1451.51M1459.98 2297.14V2317.3M1456.58 2297.14H1463.38M1456.58 2317.3H1463.38M1471.85 2297.56V2317.1M1468.45 2297.56H1475.25M1468.45 2317.1H1475.25M1483.72 2298.11V2316.63M1480.32 2298.11H1487.12M1480.32 2316.63H1487.12M1495.59 2297.29V2315.89M1492.19 2297.29H1498.99M1492.19 2315.89H1498.99M1507.46 2296.95V2315.83M1504.06 2296.95H1510.86M1504.06 2315.83H1510.86M1519.33 2296.34V2315.69M1515.93 2296.34H1522.73M1515.93 2315.69H1522.73" fill="none" stroke="#14b56e" stroke-width="1.7"/>
<path d="M937.7 2091.28 L949.57 2231.54 L961.44 2277.9 L973.31 2286.65 L985.18 2289.86 L997.05 2293.07 L1008.92 2292.48 L1020.79 2296.42 L1032.66 2298.32 L1044.53 2299.92 L1056.4 2300.36 L1068.27 2300.94 L1080.14 2299.92 L1092.01 2301.67 L1103.88 2303.13 L1115.75 2304.15 L1127.62 2305.17 L1139.49 2305.17 L1151.36 2305.17 L1163.23 2303.71 L1175.1 2305.17 L1186.97 2306.19 L1198.84 2306.63 L1210.71 2306.63 L1222.58 2306.68 L1234.45 2306.74 L1246.32 2306.8 L1258.19 2306.86 L1270.06 2306.92 L1281.93 2306.98 L1293.8 2307.03 L1305.67 2307.09 L1317.54 2307.15 L1329.41 2307.21 L1341.28 2307.27 L1353.15 2307.33 L1365.02 2307.38 L1376.89 2307.44 L1388.76 2307.5 L1400.63 2307.56 L1412.5 2305.75 L1424.37 2307.68 L1436.24 2307.73 L1448.11 2307.79 L1459.98 2307.85 L1471.85 2307.91 L1483.72 2307.97 L1495.59 2308.03 L1507.46 2308.08 L1519.33 2308.14" fill="none" stroke="#1616f2" stroke-width="7.2" stroke-linejoin="round" stroke-linecap="round"/>
<circle cx="937.7" cy="2091.28" r="3" fill="#93bdf4"/>
<circle cx="949.57" cy="2231.54" r="2.6" fill="#93bdf4"/>
<circle cx="961.44" cy="2277.9" r="2.6" fill="#93bdf4"/>
<circle cx="973.31" cy="2286.65" r="2.6" fill="#93bdf4"/>
<circle cx="985.18" cy="2289.86" r="2.6" fill="#93bdf4"/>
<circle cx="997.05" cy="2293.07" r="2.6" fill="#93bdf4"/>
<circle cx="1008.92" cy="2292.48" r="2.6" fill="#93bdf4"/>
<circle cx="1020.79" cy="2296.42" r="2.6" fill="#93bdf4"/>
<circle cx="1032.66" cy="2298.32" r="2.6" fill="#93bdf4"/>
<circle cx="1044.53" cy="2299.92" r="2.6" fill="#93bdf4"/>
<circle cx="1056.4" cy="2300.36" r="2.6" fill="#93bdf4"/>
<circle cx="1068.27" cy="2300.94" r="2.6" fill="#93bdf4"/>
<circle cx="1080.14" cy="2299.92" r="2.6" fill="#93bdf4"/>
<circle cx="1092.01" cy="2301.67" r="2.6" fill="#93bdf4"/>
<circle cx="1103.88" cy="2303.13" r="2.6" fill="#93bdf4"/>
<circle cx="1115.75" cy="2304.15" r="2.6" fill="#93bdf4"/>
<circle cx="1127.62" cy="2305.17" r="2.6" fill="#93bdf4"/>
<circle cx="1139.49" cy="2305.17" r="2.6" fill="#93bdf4"/>
<circle cx="1151.36" cy="2305.17" r="2.6" fill="#93bdf4"/>
<circle cx="1163.23" cy="2303.71" r="2.6" fill="#93bdf4"/>
<circle cx="1175.1" cy="2305.17" r="2.6" fill="#93bdf4"/>
<circle cx="1186.97" cy="2306.19" r="2.6" fill="#93bdf4"/>
<circle cx="1198.84" cy="2306.63" r="2.6" fill="#93bdf4"/>
<circle cx="1210.71" cy="2306.63" r="2.6" fill="#93bdf4"/>
<circle cx="1222.58" cy="2306.68" r="2.6" fill="#93bdf4"/>
<circle cx="1234.45" cy="2306.74" r="2.6" fill="#93bdf4"/>
<circle cx="1246.32" cy="2306.8" r="2.6" fill="#93bdf4"/>
<circle cx="1258.19" cy="2306.86" r="2.6" fill="#93bdf4"/>
<circle cx="1270.06" cy="2306.92" r="2.6" fill="#93bdf4"/>
<circle cx="1281.93" cy="2306.98" r="2.6" fill="#93bdf4"/>
<circle cx="1293.8" cy="2307.03" r="2.6" fill="#93bdf4"/>
<circle cx="1305.67" cy="2307.09" r="2.6" fill="#93bdf4"/>
<circle cx="1317.54" cy="2307.15" r="2.6" fill="#93bdf4"/>
<circle cx="1329.41" cy="2307.21" r="2.6" fill="#93bdf4"/>
<circle cx="1341.28" cy="2307.27" r="2.6" fill="#93bdf4"/>
<circle cx="1353.15" cy="2307.33" r="2.6" fill="#93bdf4"/>
<circle cx="1365.02" cy="2307.38" r="2.6" fill="#93bdf4"/>
<circle cx="1376.89" cy="2307.44" r="2.6" fill="#93bdf4"/>
<circle cx="1388.76" cy="2307.5" r="2.6" fill="#93bdf4"/>
<circle cx="1400.63" cy="2307.56" r="2.6" fill="#93bdf4"/>
<circle cx="1412.5" cy="2305.75" r="2.6" fill="#93bdf4"/>
<circle cx="1424.37" cy="2307.68" r="2.6" fill="#93bdf4"/>
<circle cx="1436.24" cy="2307.73" r="2.6" fill="#93bdf4"/>
<circle cx="1448.11" cy="2307.79" r="2.6" fill="#93bdf4"/>
<circle cx="1459.98" cy="2307.85" r="2.6" fill="#93bdf4"/>
<circle cx="1471.85" cy="2307.91" r="2.6" fill="#93bdf4"/>
<circle cx="1483.72" cy="2307.97" r="2.6" fill="#93bdf4"/>
<circle cx="1495.59" cy="2308.03" r="2.6" fill="#93bdf4"/>
<circle cx="1507.46" cy="2308.08" r="2.6" fill="#93bdf4"/>
<circle cx="1519.33" cy="2308.14" r="2.6" fill="#93bdf4"/>
<path d="M930.1 2019.4V2383.9H1531" fill="none" stroke="#111" stroke-width="1.9" stroke-linecap="square"/>
<line x1="915.1" y1="2019.4" x2="930.1" y2="2019.4" stroke="#111" stroke-width="1.9"/>
<text x="909.8" y="2028.28" font-size="24.17" text-anchor="end">2.0</text>
<line x1="915.1" y1="2092.3" x2="930.1" y2="2092.3" stroke="#111" stroke-width="1.9"/>
<text x="909.8" y="2101.18" font-size="24.17" text-anchor="end">1.5</text>
<line x1="915.1" y1="2165.2" x2="930.1" y2="2165.2" stroke="#111" stroke-width="1.9"/>
<text x="909.8" y="2174.08" font-size="24.17" text-anchor="end">1.0</text>
<line x1="915.1" y1="2238.1" x2="930.1" y2="2238.1" stroke="#111" stroke-width="1.9"/>
<text x="909.8" y="2246.98" font-size="24.17" text-anchor="end">0.5</text>
<line x1="915.1" y1="2311" x2="930.1" y2="2311" stroke="#111" stroke-width="1.9"/>
<text x="909.8" y="2319.88" font-size="24.17" text-anchor="end">0.0</text>
<line x1="915.1" y1="2383.9" x2="930.1" y2="2383.9" stroke="#111" stroke-width="1.9"/>
<text x="909.8" y="2392.78" font-size="24.17" text-anchor="end">-0.5</text>
<line x1="937.7" y1="2383.9" x2="937.7" y2="2399.1" stroke="#111" stroke-width="1.9"/>
<text transform="translate(946.59 2403.5) rotate(-90)" font-size="24" text-anchor="end" style="font-kerning:none">1</text>
<line x1="961.44" y1="2383.9" x2="961.44" y2="2399.1" stroke="#111" stroke-width="1.9"/>
<text transform="translate(970.33 2403.5) rotate(-90)" font-size="24" text-anchor="end" style="font-kerning:none">3</text>
<line x1="985.18" y1="2383.9" x2="985.18" y2="2399.1" stroke="#111" stroke-width="1.9"/>
<text transform="translate(994.07 2403.5) rotate(-90)" font-size="24" text-anchor="end" style="font-kerning:none">5</text>
<line x1="1008.92" y1="2383.9" x2="1008.92" y2="2399.1" stroke="#111" stroke-width="1.9"/>
<text transform="translate(1017.81 2403.5) rotate(-90)" font-size="24" text-anchor="end" style="font-kerning:none">7</text>
<line x1="1032.66" y1="2383.9" x2="1032.66" y2="2399.1" stroke="#111" stroke-width="1.9"/>
<text transform="translate(1041.55 2403.5) rotate(-90)" font-size="24" text-anchor="end" style="font-kerning:none">9</text>
<line x1="1056.4" y1="2383.9" x2="1056.4" y2="2399.1" stroke="#111" stroke-width="1.9"/>
<text transform="translate(1065.29 2403.5) rotate(-90)" font-size="24" text-anchor="end" style="font-kerning:none">11</text>
<line x1="1080.14" y1="2383.9" x2="1080.14" y2="2399.1" stroke="#111" stroke-width="1.9"/>
<text transform="translate(1089.03 2403.5) rotate(-90)" font-size="24" text-anchor="end" style="font-kerning:none">13</text>
<line x1="1103.88" y1="2383.9" x2="1103.88" y2="2399.1" stroke="#111" stroke-width="1.9"/>
<text transform="translate(1112.77 2403.5) rotate(-90)" font-size="24" text-anchor="end" style="font-kerning:none">15</text>
<line x1="1127.62" y1="2383.9" x2="1127.62" y2="2399.1" stroke="#111" stroke-width="1.9"/>
<text transform="translate(1136.51 2403.5) rotate(-90)" font-size="24" text-anchor="end" style="font-kerning:none">17</text>
<line x1="1151.36" y1="2383.9" x2="1151.36" y2="2399.1" stroke="#111" stroke-width="1.9"/>
<text transform="translate(1160.25 2403.5) rotate(-90)" font-size="24" text-anchor="end" style="font-kerning:none">19</text>
<line x1="1175.1" y1="2383.9" x2="1175.1" y2="2399.1" stroke="#111" stroke-width="1.9"/>
<text transform="translate(1183.99 2403.5) rotate(-90)" font-size="24" text-anchor="end" style="font-kerning:none">21</text>
<line x1="1198.84" y1="2383.9" x2="1198.84" y2="2399.1" stroke="#111" stroke-width="1.9"/>
<text transform="translate(1207.73 2403.5) rotate(-90)" font-size="24" text-anchor="end" style="font-kerning:none">23</text>
<line x1="1222.58" y1="2383.9" x2="1222.58" y2="2399.1" stroke="#111" stroke-width="1.9"/>
<text transform="translate(1231.47 2403.5) rotate(-90)" font-size="24" text-anchor="end" style="font-kerning:none">25</text>
<line x1="1246.32" y1="2383.9" x2="1246.32" y2="2399.1" stroke="#111" stroke-width="1.9"/>
<text transform="translate(1255.21 2403.5) rotate(-90)" font-size="24" text-anchor="end" style="font-kerning:none">27</text>
<line x1="1270.06" y1="2383.9" x2="1270.06" y2="2399.1" stroke="#111" stroke-width="1.9"/>
<text transform="translate(1278.95 2403.5) rotate(-90)" font-size="24" text-anchor="end" style="font-kerning:none">29</text>
<line x1="1293.8" y1="2383.9" x2="1293.8" y2="2399.1" stroke="#111" stroke-width="1.9"/>
<text transform="translate(1302.69 2403.5) rotate(-90)" font-size="24" text-anchor="end" style="font-kerning:none">31</text>
<line x1="1317.54" y1="2383.9" x2="1317.54" y2="2399.1" stroke="#111" stroke-width="1.9"/>
<text transform="translate(1326.43 2403.5) rotate(-90)" font-size="24" text-anchor="end" style="font-kerning:none">33</text>
<line x1="1341.28" y1="2383.9" x2="1341.28" y2="2399.1" stroke="#111" stroke-width="1.9"/>
<text transform="translate(1350.17 2403.5) rotate(-90)" font-size="24" text-anchor="end" style="font-kerning:none">35</text>
<line x1="1365.02" y1="2383.9" x2="1365.02" y2="2399.1" stroke="#111" stroke-width="1.9"/>
<text transform="translate(1373.91 2403.5) rotate(-90)" font-size="24" text-anchor="end" style="font-kerning:none">37</text>
<line x1="1388.76" y1="2383.9" x2="1388.76" y2="2399.1" stroke="#111" stroke-width="1.9"/>
<text transform="translate(1397.65 2403.5) rotate(-90)" font-size="24" text-anchor="end" style="font-kerning:none">39</text>
<line x1="1412.5" y1="2383.9" x2="1412.5" y2="2399.1" stroke="#111" stroke-width="1.9"/>
<text transform="translate(1421.39 2403.5) rotate(-90)" font-size="24" text-anchor="end" style="font-kerning:none">41</text>
<line x1="1436.24" y1="2383.9" x2="1436.24" y2="2399.1" stroke="#111" stroke-width="1.9"/>
<text transform="translate(1445.13 2403.5) rotate(-90)" font-size="24" text-anchor="end" style="font-kerning:none">43</text>
<line x1="1459.98" y1="2383.9" x2="1459.98" y2="2399.1" stroke="#111" stroke-width="1.9"/>
<text transform="translate(1468.87 2403.5) rotate(-90)" font-size="24" text-anchor="end" style="font-kerning:none">45</text>
<line x1="1483.72" y1="2383.9" x2="1483.72" y2="2399.1" stroke="#111" stroke-width="1.9"/>
<text transform="translate(1492.61 2403.5) rotate(-90)" font-size="24" text-anchor="end" style="font-kerning:none">47</text>
<line x1="1507.46" y1="2383.9" x2="1507.46" y2="2399.1" stroke="#111" stroke-width="1.9"/>
<text transform="translate(1516.35 2403.5) rotate(-90)" font-size="24" text-anchor="end" style="font-kerning:none">49</text>
<text transform="translate(849 2203.15) rotate(-90)" font-size="23.68" text-anchor="middle">Training loss value</text>
<text x="1229.85" y="2464.9" font-size="24" text-anchor="middle">Training epoch</text>
<text x="7.3" y="26" font-size="33.2" font-weight="bold" stroke="#000" stroke-width="0.4">A</text>
<text x="549.4" y="26" font-size="33.2" font-weight="bold" stroke="#000" stroke-width="0.4">B</text>
<text x="1070" y="26" font-size="33.2" font-weight="bold" stroke="#000" stroke-width="0.4">C</text>
<text x="8.8" y="485.8" font-size="33.2" font-weight="bold" stroke="#000" stroke-width="0.4">D</text>
<text x="549.4" y="485.8" font-size="33.2" font-weight="bold" stroke="#000" stroke-width="0.4">E</text>
<text x="1069.1" y="485.8" font-size="33.2" font-weight="bold" stroke="#000" stroke-width="0.4">F</text>
<text x="7.9" y="999.3" font-size="33.2" font-weight="bold" stroke="#000" stroke-width="0.4">G</text>
<text x="550" y="999.3" font-size="33.2" font-weight="bold" stroke="#000" stroke-width="0.4">H</text>
<text x="1069.8" y="999.3" font-size="33.2" font-weight="bold" stroke="#000" stroke-width="0.4">I</text>
<text x="7.6" y="1469.2" font-size="33.2" font-weight="bold" stroke="#000" stroke-width="0.4">J</text>
<text x="549.8" y="1469.2" font-size="33.2" font-weight="bold" stroke="#000" stroke-width="0.4">K</text>
<text x="1069.1" y="1469.2" font-size="33.2" font-weight="bold" stroke="#000" stroke-width="0.4">L</text>
<text x="7.5" y="1982.7" font-size="33.2" font-weight="bold" stroke="#000" stroke-width="0.4">M</text>
<text x="826" y="1982.7" font-size="33.2" font-weight="bold" stroke="#000" stroke-width="0.4">N</text>
</svg>
</body></html>
